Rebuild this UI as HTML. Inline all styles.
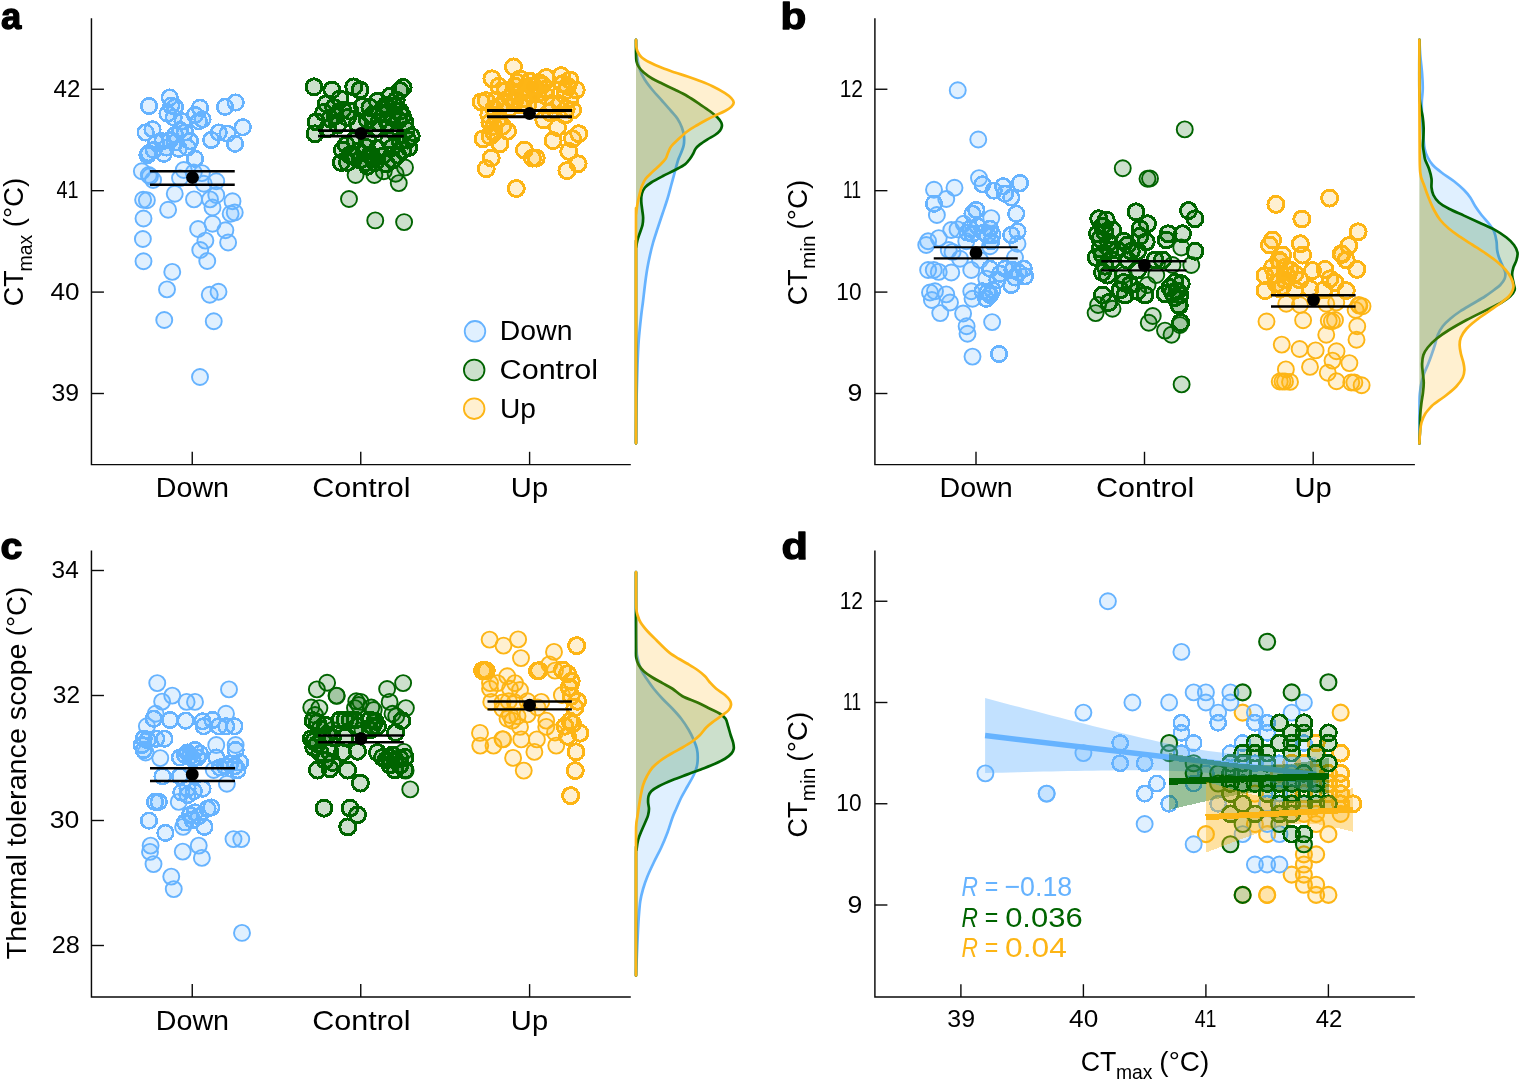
<!DOCTYPE html>
<html lang="en"><head><meta charset="utf-8"><title>Thermal tolerance figure</title>
<style>
html,body{margin:0;padding:0;background:#fff;}
body{width:1519px;height:1080px;overflow:hidden;}
svg{display:block;}
</style></head>
<body>
<svg width="1519" height="1080" viewBox="0 0 1519 1080" font-family="'Liberation Sans', sans-serif" fill="#000">
<rect width="1519" height="1080" fill="#fff"/>
<path d="M91.45,18.2 V464.6 H630.8" fill="none" stroke="#0a0a0a" stroke-width="1.45"/>
<line x1="91.45" y1="89.25" x2="103.95" y2="89.25" stroke="#0a0a0a" stroke-width="1.4"/>
<line x1="91.45" y1="190.67" x2="103.95" y2="190.67" stroke="#0a0a0a" stroke-width="1.4"/>
<line x1="91.45" y1="292.09" x2="103.95" y2="292.09" stroke="#0a0a0a" stroke-width="1.4"/>
<line x1="91.45" y1="393.51" x2="103.95" y2="393.51" stroke="#0a0a0a" stroke-width="1.4"/>
<line x1="192.25" y1="464.6" x2="192.25" y2="451.8" stroke="#0a0a0a" stroke-width="1.4"/>
<line x1="360.75" y1="464.6" x2="360.75" y2="451.8" stroke="#0a0a0a" stroke-width="1.4"/>
<line x1="529.6" y1="464.6" x2="529.6" y2="451.8" stroke="#0a0a0a" stroke-width="1.4"/>
<text transform="translate(53.51,96.95) scale(1.0082,1)" font-size="23.9">42</text>
<text transform="translate(56.45,198.37) scale(0.8288,1)" font-size="23.9">41</text>
<text transform="translate(50.61,299.79) scale(1.0919,1)" font-size="23.9">40</text>
<text transform="translate(51.57,401.21) scale(1.0384,1)" font-size="23.9">39</text>
<text transform="translate(155.68,497) scale(1.0146,1)" font-size="28.3">Down</text>
<text transform="translate(312.17,497) scale(1.0791,1)" font-size="28.3">Control</text>
<text transform="translate(510.84,497) scale(1.0296,1)" font-size="28.3">Up</text>
<g fill="#66b3ff" fill-opacity="0.2" stroke="#66b3ff" stroke-width="1.9">
<circle cx="149" cy="106" r="7.8" stroke-width="2.6" shape-rendering="crispEdges"/><circle cx="169.75" cy="97.5" r="7.8" stroke-width="2.6" shape-rendering="crispEdges"/><circle cx="171.25" cy="105.62" r="7.8" stroke-width="2.6" shape-rendering="crispEdges"/><circle cx="175" cy="106.88" r="7.8" stroke-width="2.6" shape-rendering="crispEdges"/><circle cx="167.5" cy="113.75" r="7.8" stroke-width="2.6" shape-rendering="crispEdges"/><circle cx="200" cy="107.75" r="7.8" stroke-width="2.6" shape-rendering="crispEdges"/><circle cx="202.5" cy="119.38" r="7.8" stroke-width="2.6" shape-rendering="crispEdges"/><circle cx="198.75" cy="121.25" r="7.8" stroke-width="2.6" shape-rendering="crispEdges"/><circle cx="225" cy="106.88" r="7.8" stroke-width="2.6" shape-rendering="crispEdges"/><circle cx="235.62" cy="102.5" r="7.8" stroke-width="2.6" shape-rendering="crispEdges"/><circle cx="182.5" cy="121.25" r="7.8" stroke-width="2.6" shape-rendering="crispEdges"/><circle cx="242.75" cy="127.25" r="7.8" stroke-width="2.6" shape-rendering="crispEdges"/><circle cx="145.62" cy="132.5" r="7.8" stroke-width="2.6" shape-rendering="crispEdges"/><circle cx="152.5" cy="129.38" r="7.8" stroke-width="2.6" shape-rendering="crispEdges"/><circle cx="180" cy="130" r="7.8" stroke-width="2.6" shape-rendering="crispEdges"/><circle cx="218.75" cy="132.5" r="7.8" stroke-width="2.6" shape-rendering="crispEdges"/><circle cx="227.5" cy="133.75" r="7.8" stroke-width="2.6" shape-rendering="crispEdges"/><circle cx="211.25" cy="140" r="7.8" stroke-width="2.6" shape-rendering="crispEdges"/><circle cx="235" cy="143.75" r="7.8" stroke-width="2.6" shape-rendering="crispEdges"/><circle cx="190" cy="141.25" r="7.8" stroke-width="2.6" shape-rendering="crispEdges"/><circle cx="170" cy="140" r="7.8" stroke-width="2.6" shape-rendering="crispEdges"/><circle cx="175" cy="142.5" r="7.8" stroke-width="2.6" shape-rendering="crispEdges"/><circle cx="162.5" cy="141.25" r="7.8" stroke-width="2.6" shape-rendering="crispEdges"/><circle cx="156.25" cy="142.5" r="7.8" stroke-width="2.6" shape-rendering="crispEdges"/><circle cx="148.75" cy="153.12" r="7.8" stroke-width="2.6" shape-rendering="crispEdges"/><circle cx="147.5" cy="155" r="7.8" stroke-width="2.6" shape-rendering="crispEdges"/><circle cx="163.75" cy="153.75" r="7.8" stroke-width="2.6" shape-rendering="crispEdges"/><circle cx="178.75" cy="148.75" r="7.8" stroke-width="2.6" shape-rendering="crispEdges"/><circle cx="195" cy="158.75" r="7.8" stroke-width="2.6" shape-rendering="crispEdges"/><circle cx="185" cy="132.5" r="7.8" stroke-width="2.6" shape-rendering="crispEdges"/><circle cx="175" cy="135" r="7.8" stroke-width="2.6" shape-rendering="crispEdges"/><circle cx="166.25" cy="147.5" r="7.8" stroke-width="2.6" shape-rendering="crispEdges"/><circle cx="153.75" cy="150" r="7.8" stroke-width="2.6" shape-rendering="crispEdges"/><circle cx="187.5" cy="147.5" r="7.8" stroke-width="2.6" shape-rendering="crispEdges"/><circle cx="173.75" cy="117.5" r="7.8" stroke-width="2.6" shape-rendering="crispEdges"/><circle cx="195" cy="115" r="7.8" stroke-width="2.6" shape-rendering="crispEdges"/><circle cx="141.88" cy="171.25" r="8"/><circle cx="150" cy="176.25" r="8"/><circle cx="153.12" cy="180" r="8"/><circle cx="148.75" cy="175" r="8"/><circle cx="183.75" cy="170" r="8"/><circle cx="180" cy="178.12" r="8"/><circle cx="193.75" cy="172.5" r="8"/><circle cx="201.88" cy="173.12" r="8"/><circle cx="216.25" cy="181.25" r="8"/><circle cx="203.75" cy="183.75" r="8"/><circle cx="143.12" cy="199.75" r="8"/><circle cx="146.88" cy="200.25" r="8"/><circle cx="174.75" cy="193.75" r="8"/><circle cx="168.12" cy="209.75" r="8"/><circle cx="194" cy="199.38" r="8"/><circle cx="210" cy="199.38" r="8"/><circle cx="216.25" cy="195" r="8"/><circle cx="212.5" cy="207.5" r="8"/><circle cx="232.5" cy="201.25" r="8"/><circle cx="230.62" cy="213.75" r="8"/><circle cx="234.75" cy="212.5" r="8"/><circle cx="143.5" cy="218.5" r="8"/><circle cx="212.5" cy="223.75" r="8"/><circle cx="198.12" cy="229" r="8"/><circle cx="225.38" cy="230.25" r="8"/><circle cx="142.88" cy="239" r="8"/><circle cx="205.38" cy="240.62" r="8"/><circle cx="228.12" cy="242.5" r="8"/><circle cx="200.25" cy="250" r="8"/><circle cx="143.5" cy="261.25" r="8"/><circle cx="207.25" cy="261" r="8"/><circle cx="172.25" cy="271.88" r="8"/><circle cx="167" cy="289.38" r="8"/><circle cx="209.75" cy="294.75" r="8"/><circle cx="218.5" cy="291.75" r="8"/><circle cx="164.25" cy="320" r="8"/><circle cx="213.75" cy="321.25" r="8"/><circle cx="200" cy="377" r="8"/>
</g>
<g fill="#006400" fill-opacity="0.2" stroke="#006400" stroke-width="1.9">
<circle cx="314" cy="86.88" r="8" stroke-width="3" shape-rendering="crispEdges"/><circle cx="331.88" cy="90" r="8" stroke-width="3" shape-rendering="crispEdges"/><circle cx="353.75" cy="86.88" r="8" stroke-width="3" shape-rendering="crispEdges"/><circle cx="360" cy="90" r="8" stroke-width="3" shape-rendering="crispEdges"/><circle cx="403.12" cy="87.5" r="8" stroke-width="3" shape-rendering="crispEdges"/><circle cx="400" cy="90.62" r="8" stroke-width="3" shape-rendering="crispEdges"/><circle cx="326.25" cy="103.75" r="8" stroke-width="3" shape-rendering="crispEdges"/><circle cx="340" cy="98.75" r="8" stroke-width="3" shape-rendering="crispEdges"/><circle cx="390" cy="96.25" r="8" stroke-width="3" shape-rendering="crispEdges"/><circle cx="377.5" cy="101.25" r="8" stroke-width="3" shape-rendering="crispEdges"/><circle cx="362.5" cy="106.25" r="8" stroke-width="3" shape-rendering="crispEdges"/><circle cx="395" cy="106.25" r="8" stroke-width="3" shape-rendering="crispEdges"/><circle cx="350" cy="111.25" r="8" stroke-width="3" shape-rendering="crispEdges"/><circle cx="380" cy="112.5" r="8" stroke-width="3" shape-rendering="crispEdges"/><circle cx="316.25" cy="121.88" r="8" stroke-width="3" shape-rendering="crispEdges"/><circle cx="330" cy="118.75" r="8" stroke-width="3" shape-rendering="crispEdges"/><circle cx="347.5" cy="117.5" r="8" stroke-width="3" shape-rendering="crispEdges"/><circle cx="315" cy="133.75" r="8" stroke-width="3" shape-rendering="crispEdges"/><circle cx="398.75" cy="120" r="8" stroke-width="3" shape-rendering="crispEdges"/><circle cx="405" cy="122.5" r="8" stroke-width="3" shape-rendering="crispEdges"/><circle cx="411.25" cy="136.25" r="8" stroke-width="3" shape-rendering="crispEdges"/><circle cx="388.75" cy="140" r="8" stroke-width="3" shape-rendering="crispEdges"/><circle cx="346.25" cy="145" r="8" stroke-width="3" shape-rendering="crispEdges"/><circle cx="342.5" cy="150" r="8" stroke-width="3" shape-rendering="crispEdges"/><circle cx="358.75" cy="151.25" r="8" stroke-width="3" shape-rendering="crispEdges"/><circle cx="377.5" cy="148.75" r="8" stroke-width="3" shape-rendering="crispEdges"/><circle cx="408.75" cy="147.5" r="8" stroke-width="3" shape-rendering="crispEdges"/><circle cx="397.5" cy="155" r="8" stroke-width="3" shape-rendering="crispEdges"/><circle cx="341.25" cy="162.5" r="8" stroke-width="3" shape-rendering="crispEdges"/><circle cx="347.5" cy="162.5" r="8" stroke-width="3" shape-rendering="crispEdges"/><circle cx="366.25" cy="162.5" r="8" stroke-width="3" shape-rendering="crispEdges"/><circle cx="386.25" cy="163.75" r="8" stroke-width="3" shape-rendering="crispEdges"/><circle cx="333.75" cy="107.5" r="8" stroke-width="3" shape-rendering="crispEdges"/><circle cx="370" cy="107.5" r="8" stroke-width="3" shape-rendering="crispEdges"/><circle cx="386.25" cy="105" r="8" stroke-width="3" shape-rendering="crispEdges"/><circle cx="400" cy="111.25" r="8" stroke-width="3" shape-rendering="crispEdges"/><circle cx="337.5" cy="125" r="8" stroke-width="3" shape-rendering="crispEdges"/><circle cx="357.5" cy="123.75" r="8" stroke-width="3" shape-rendering="crispEdges"/><circle cx="367.5" cy="120" r="8" stroke-width="3" shape-rendering="crispEdges"/><circle cx="387.5" cy="122.5" r="8" stroke-width="3" shape-rendering="crispEdges"/><circle cx="375" cy="128.75" r="8" stroke-width="3" shape-rendering="crispEdges"/><circle cx="392.5" cy="130" r="8" stroke-width="3" shape-rendering="crispEdges"/><circle cx="327.5" cy="128.75" r="8" stroke-width="3" shape-rendering="crispEdges"/><circle cx="406.25" cy="130" r="8" stroke-width="3" shape-rendering="crispEdges"/><circle cx="367.5" cy="140" r="8" stroke-width="3" shape-rendering="crispEdges"/><circle cx="355" cy="140" r="8" stroke-width="3" shape-rendering="crispEdges"/><circle cx="400" cy="141.25" r="8" stroke-width="3" shape-rendering="crispEdges"/><circle cx="370" cy="155" r="8" stroke-width="3" shape-rendering="crispEdges"/><circle cx="382.5" cy="156.25" r="8" stroke-width="3" shape-rendering="crispEdges"/><circle cx="360" cy="160" r="8" stroke-width="3" shape-rendering="crispEdges"/><circle cx="375" cy="162.5" r="8" stroke-width="3" shape-rendering="crispEdges"/><circle cx="392.5" cy="147.5" r="8" stroke-width="3" shape-rendering="crispEdges"/><circle cx="352.5" cy="156.25" r="8" stroke-width="3" shape-rendering="crispEdges"/><circle cx="383.75" cy="113.75" r="8" stroke-width="3" shape-rendering="crispEdges"/><circle cx="392.5" cy="117.5" r="8" stroke-width="3" shape-rendering="crispEdges"/><circle cx="396.25" cy="100" r="8" stroke-width="3" shape-rendering="crispEdges"/><circle cx="372.5" cy="115" r="8" stroke-width="3" shape-rendering="crispEdges"/><circle cx="378.75" cy="122.5" r="8" stroke-width="3" shape-rendering="crispEdges"/><circle cx="387.5" cy="107.5" r="8" stroke-width="3" shape-rendering="crispEdges"/><circle cx="402.5" cy="116.25" r="8" stroke-width="3" shape-rendering="crispEdges"/><circle cx="366.25" cy="147.5" r="8" stroke-width="3" shape-rendering="crispEdges"/><circle cx="372.5" cy="157.5" r="8" stroke-width="3" shape-rendering="crispEdges"/><circle cx="323.75" cy="112.5" r="8" stroke-width="3" shape-rendering="crispEdges"/><circle cx="342.5" cy="110" r="8" stroke-width="3" shape-rendering="crispEdges"/><circle cx="335" cy="116.25" r="8" stroke-width="3" shape-rendering="crispEdges"/><circle cx="407.5" cy="140" r="8" stroke-width="3" shape-rendering="crispEdges"/><circle cx="402.5" cy="150" r="8" stroke-width="3" shape-rendering="crispEdges"/><circle cx="392.5" cy="160" r="8" stroke-width="3" shape-rendering="crispEdges"/><circle cx="367.5" cy="166.25" r="8" stroke-width="3" shape-rendering="crispEdges"/><circle cx="350" cy="155" r="8" stroke-width="3" shape-rendering="crispEdges"/><circle cx="355.62" cy="175" r="8"/><circle cx="374.38" cy="175" r="8"/><circle cx="383.75" cy="171.25" r="8"/><circle cx="405" cy="167.5" r="8"/><circle cx="395.62" cy="173.75" r="8"/><circle cx="398.75" cy="183.12" r="8"/><circle cx="349" cy="199" r="8"/><circle cx="375.25" cy="220.4" r="8"/><circle cx="404.1" cy="222.1" r="8"/>
</g>
<g fill="#fdb515" fill-opacity="0.2" stroke="#fdb515" stroke-width="1.9">
<circle cx="513.5" cy="66.88" r="8" stroke-width="3" shape-rendering="crispEdges"/><circle cx="491.88" cy="78.75" r="8" stroke-width="3" shape-rendering="crispEdges"/><circle cx="498.75" cy="86.25" r="8" stroke-width="3" shape-rendering="crispEdges"/><circle cx="520" cy="78.75" r="8" stroke-width="3" shape-rendering="crispEdges"/><circle cx="530" cy="81.25" r="8" stroke-width="3" shape-rendering="crispEdges"/><circle cx="538.75" cy="82.5" r="8" stroke-width="3" shape-rendering="crispEdges"/><circle cx="546.25" cy="77.5" r="8" stroke-width="3" shape-rendering="crispEdges"/><circle cx="561.25" cy="75.62" r="8" stroke-width="3" shape-rendering="crispEdges"/><circle cx="570" cy="80" r="8" stroke-width="3" shape-rendering="crispEdges"/><circle cx="576.25" cy="90" r="8" stroke-width="3" shape-rendering="crispEdges"/><circle cx="565" cy="91.25" r="8" stroke-width="3" shape-rendering="crispEdges"/><circle cx="546.25" cy="88.75" r="8" stroke-width="3" shape-rendering="crispEdges"/><circle cx="521.25" cy="91.25" r="8" stroke-width="3" shape-rendering="crispEdges"/><circle cx="510" cy="97.5" r="8" stroke-width="3" shape-rendering="crispEdges"/><circle cx="481.25" cy="101.88" r="8" stroke-width="3" shape-rendering="crispEdges"/><circle cx="486.25" cy="100.62" r="8" stroke-width="3" shape-rendering="crispEdges"/><circle cx="496.25" cy="100" r="8" stroke-width="3" shape-rendering="crispEdges"/><circle cx="505" cy="102.5" r="8" stroke-width="3" shape-rendering="crispEdges"/><circle cx="537.5" cy="102.5" r="8" stroke-width="3" shape-rendering="crispEdges"/><circle cx="560" cy="103.75" r="8" stroke-width="3" shape-rendering="crispEdges"/><circle cx="572.5" cy="110" r="8" stroke-width="3" shape-rendering="crispEdges"/><circle cx="566.25" cy="108.75" r="8" stroke-width="3" shape-rendering="crispEdges"/><circle cx="488.75" cy="115" r="8" stroke-width="3" shape-rendering="crispEdges"/><circle cx="490" cy="122.5" r="8" stroke-width="3" shape-rendering="crispEdges"/><circle cx="543.75" cy="120" r="8" stroke-width="3" shape-rendering="crispEdges"/><circle cx="557.5" cy="127.5" r="8" stroke-width="3" shape-rendering="crispEdges"/><circle cx="507.5" cy="131.25" r="8" stroke-width="3" shape-rendering="crispEdges"/><circle cx="493.75" cy="132.5" r="8" stroke-width="3" shape-rendering="crispEdges"/><circle cx="483.12" cy="138.75" r="8" stroke-width="3" shape-rendering="crispEdges"/><circle cx="490" cy="136.25" r="8" stroke-width="3" shape-rendering="crispEdges"/><circle cx="500" cy="143.75" r="8" stroke-width="3" shape-rendering="crispEdges"/><circle cx="553.12" cy="140.62" r="8" stroke-width="3" shape-rendering="crispEdges"/><circle cx="578.75" cy="133.75" r="8" stroke-width="3" shape-rendering="crispEdges"/><circle cx="572.5" cy="138.75" r="8" stroke-width="3" shape-rendering="crispEdges"/><circle cx="568.75" cy="151.25" r="8" stroke-width="3" shape-rendering="crispEdges"/><circle cx="524.38" cy="150" r="8" stroke-width="3" shape-rendering="crispEdges"/><circle cx="532.5" cy="158.12" r="8" stroke-width="3" shape-rendering="crispEdges"/><circle cx="536.25" cy="158.12" r="8" stroke-width="3" shape-rendering="crispEdges"/><circle cx="491.25" cy="158.12" r="8" stroke-width="3" shape-rendering="crispEdges"/><circle cx="486.25" cy="168.75" r="8" stroke-width="3" shape-rendering="crispEdges"/><circle cx="578.12" cy="163.75" r="8" stroke-width="3" shape-rendering="crispEdges"/><circle cx="566.88" cy="170.62" r="8" stroke-width="3" shape-rendering="crispEdges"/><circle cx="515" cy="86.25" r="8" stroke-width="3" shape-rendering="crispEdges"/><circle cx="526.25" cy="87.5" r="8" stroke-width="3" shape-rendering="crispEdges"/><circle cx="535" cy="90" r="8" stroke-width="3" shape-rendering="crispEdges"/><circle cx="542.5" cy="85" r="8" stroke-width="3" shape-rendering="crispEdges"/><circle cx="515" cy="100" r="8" stroke-width="3" shape-rendering="crispEdges"/><circle cx="525" cy="98.75" r="8" stroke-width="3" shape-rendering="crispEdges"/><circle cx="530" cy="93.75" r="8" stroke-width="3" shape-rendering="crispEdges"/><circle cx="520" cy="105" r="8" stroke-width="3" shape-rendering="crispEdges"/><circle cx="500" cy="106.25" r="8" stroke-width="3" shape-rendering="crispEdges"/><circle cx="510" cy="107.5" r="8" stroke-width="3" shape-rendering="crispEdges"/><circle cx="493.75" cy="108.75" r="8" stroke-width="3" shape-rendering="crispEdges"/><circle cx="527.5" cy="105" r="8" stroke-width="3" shape-rendering="crispEdges"/><circle cx="513.75" cy="92.5" r="8" stroke-width="3" shape-rendering="crispEdges"/><circle cx="567.5" cy="86.25" r="8" stroke-width="3" shape-rendering="crispEdges"/><circle cx="562.5" cy="83.75" r="8" stroke-width="3" shape-rendering="crispEdges"/><circle cx="570" cy="98.75" r="8" stroke-width="3" shape-rendering="crispEdges"/><circle cx="552.5" cy="105" r="8" stroke-width="3" shape-rendering="crispEdges"/><circle cx="497.5" cy="120" r="8" stroke-width="3" shape-rendering="crispEdges"/><circle cx="502.5" cy="126.25" r="8" stroke-width="3" shape-rendering="crispEdges"/><circle cx="493.75" cy="126.25" r="8" stroke-width="3" shape-rendering="crispEdges"/><circle cx="565" cy="115" r="8" stroke-width="3" shape-rendering="crispEdges"/><circle cx="550" cy="112.5" r="8" stroke-width="3" shape-rendering="crispEdges"/><circle cx="505" cy="91.25" r="8" stroke-width="3" shape-rendering="crispEdges"/><circle cx="537.5" cy="93.75" r="8" stroke-width="3" shape-rendering="crispEdges"/><circle cx="546.25" cy="96.25" r="8" stroke-width="3" shape-rendering="crispEdges"/><circle cx="517.5" cy="82.5" r="8" stroke-width="3" shape-rendering="crispEdges"/><circle cx="532.5" cy="86.25" r="8" stroke-width="3" shape-rendering="crispEdges"/><circle cx="516.25" cy="188.5" r="8" stroke-width="3" shape-rendering="crispEdges"/>
</g>
<circle cx="192.5" cy="177.5" r="6.4" fill="#000"/>
<path d="M150,171.25 H234.75 M150,184.75 H234.75" stroke="#000" stroke-width="2.3" fill="none"/>
<circle cx="361" cy="133.5" r="6.4" fill="#000"/>
<path d="M318,130.6 H403.75 M318,136.1 H403.75" stroke="#000" stroke-width="2.8" fill="none"/>
<circle cx="529.5" cy="113.5" r="6.4" fill="#000"/>
<path d="M487,110.5 H572 M487,116.7 H572" stroke="#000" stroke-width="3.0" fill="none"/>
<path d="M636,39.9 C636.15,42.42 636.21,49.98 636.88,55 C637.54,60.02 638.65,65.83 640,70 C641.35,74.17 642.92,76.67 645,80 C647.08,83.33 649.58,86.46 652.5,90 C655.42,93.54 659.38,97.71 662.5,101.25 C665.62,104.79 668.75,108.33 671.25,111.25 C673.75,114.17 675.73,116.04 677.5,118.75 C679.27,121.46 680.79,124.58 681.88,127.5 C682.96,130.42 683.69,133.33 684,136.25 C684.31,139.17 684.21,142.29 683.75,145 C683.29,147.71 682.19,150 681.25,152.5 C680.31,155 679.17,156.88 678.12,160 C677.08,163.12 676.15,167.08 675,171.25 C673.85,175.42 672.5,180.42 671.25,185 C670,189.58 668.96,193.96 667.5,198.75 C666.04,203.54 664.17,208.75 662.5,213.75 C660.83,218.75 659.06,223.96 657.5,228.75 C655.94,233.54 654.38,238.12 653.12,242.5 C651.88,246.88 650.98,250.62 650,255 C649.02,259.38 648.04,264.17 647.25,268.75 C646.46,273.33 645.98,276.88 645.25,282.5 C644.52,288.12 643.54,297.08 642.88,302.5 C642.21,307.92 641.94,308.75 641.25,315 C640.56,321.25 639.38,331.67 638.75,340 C638.12,348.33 637.88,354.58 637.5,365 C637.12,375.42 636.75,389.45 636.5,402.5 C636.25,415.55 636.08,436.5 636,443.3 L636,39.9 Z" fill="#66b3ff" fill-opacity="0.2" stroke="none"/>
<path d="M636,39.9 C636.15,42.42 636.21,49.98 636.88,55 C637.54,60.02 638.65,65.83 640,70 C641.35,74.17 642.92,76.67 645,80 C647.08,83.33 649.58,86.46 652.5,90 C655.42,93.54 659.38,97.71 662.5,101.25 C665.62,104.79 668.75,108.33 671.25,111.25 C673.75,114.17 675.73,116.04 677.5,118.75 C679.27,121.46 680.79,124.58 681.88,127.5 C682.96,130.42 683.69,133.33 684,136.25 C684.31,139.17 684.21,142.29 683.75,145 C683.29,147.71 682.19,150 681.25,152.5 C680.31,155 679.17,156.88 678.12,160 C677.08,163.12 676.15,167.08 675,171.25 C673.85,175.42 672.5,180.42 671.25,185 C670,189.58 668.96,193.96 667.5,198.75 C666.04,203.54 664.17,208.75 662.5,213.75 C660.83,218.75 659.06,223.96 657.5,228.75 C655.94,233.54 654.38,238.12 653.12,242.5 C651.88,246.88 650.98,250.62 650,255 C649.02,259.38 648.04,264.17 647.25,268.75 C646.46,273.33 645.98,276.88 645.25,282.5 C644.52,288.12 643.54,297.08 642.88,302.5 C642.21,307.92 641.94,308.75 641.25,315 C640.56,321.25 639.38,331.67 638.75,340 C638.12,348.33 637.88,354.58 637.5,365 C637.12,375.42 636.75,389.45 636.5,402.5 C636.25,415.55 636.08,436.5 636,443.3" fill="none" stroke="#66b3ff" stroke-width="2.7" stroke-linejoin="round" stroke-linecap="round"/>
<path d="M636,39.9 C636,42 635.92,48.94 636,52.5 C636.08,56.06 636.04,58.85 636.5,61.25 C636.96,63.65 637.54,65 638.75,66.88 C639.96,68.75 641.46,70.52 643.75,72.5 C646.04,74.48 649.38,76.88 652.5,78.75 C655.62,80.62 658.75,81.92 662.5,83.75 C666.25,85.58 670.83,87.67 675,89.75 C679.17,91.83 683.33,93.81 687.5,96.25 C691.67,98.69 696.25,101.88 700,104.38 C703.75,106.88 707.08,109.06 710,111.25 C712.92,113.44 715.62,115.62 717.5,117.5 C719.38,119.38 720.52,121.04 721.25,122.5 C721.98,123.96 722.08,124.9 721.88,126.25 C721.67,127.6 721.15,129.17 720,130.62 C718.85,132.08 717.08,133.54 715,135 C712.92,136.46 710,137.81 707.5,139.38 C705,140.94 701.98,142.81 700,144.38 C698.02,145.94 696.77,147.19 695.62,148.75 C694.48,150.31 694.06,152.08 693.12,153.75 C692.19,155.42 691.35,156.98 690,158.75 C688.65,160.52 687.5,162.5 685,164.38 C682.5,166.25 678.75,168.02 675,170 C671.25,171.98 666.46,174.17 662.5,176.25 C658.54,178.33 654.17,180.62 651.25,182.5 C648.33,184.38 646.56,185.62 645,187.5 C643.44,189.38 642.5,191.46 641.88,193.75 C641.25,196.04 641.19,198.54 641.25,201.25 C641.31,203.96 641.94,207.29 642.25,210 C642.56,212.71 643.08,215 643.12,217.5 C643.17,220 643.02,222.5 642.5,225 C641.98,227.5 640.83,230 640,232.5 C639.17,235 638.12,237.5 637.5,240 C636.88,242.5 636.5,244.58 636.25,247.5 C636,250.42 636.04,224.87 636,257.5 C635.96,290.13 636,412.33 636,443.3 L636,39.9 Z" fill="#006400" fill-opacity="0.2" stroke="none"/>
<path d="M636,39.9 C636,42 635.92,48.94 636,52.5 C636.08,56.06 636.04,58.85 636.5,61.25 C636.96,63.65 637.54,65 638.75,66.88 C639.96,68.75 641.46,70.52 643.75,72.5 C646.04,74.48 649.38,76.88 652.5,78.75 C655.62,80.62 658.75,81.92 662.5,83.75 C666.25,85.58 670.83,87.67 675,89.75 C679.17,91.83 683.33,93.81 687.5,96.25 C691.67,98.69 696.25,101.88 700,104.38 C703.75,106.88 707.08,109.06 710,111.25 C712.92,113.44 715.62,115.62 717.5,117.5 C719.38,119.38 720.52,121.04 721.25,122.5 C721.98,123.96 722.08,124.9 721.88,126.25 C721.67,127.6 721.15,129.17 720,130.62 C718.85,132.08 717.08,133.54 715,135 C712.92,136.46 710,137.81 707.5,139.38 C705,140.94 701.98,142.81 700,144.38 C698.02,145.94 696.77,147.19 695.62,148.75 C694.48,150.31 694.06,152.08 693.12,153.75 C692.19,155.42 691.35,156.98 690,158.75 C688.65,160.52 687.5,162.5 685,164.38 C682.5,166.25 678.75,168.02 675,170 C671.25,171.98 666.46,174.17 662.5,176.25 C658.54,178.33 654.17,180.62 651.25,182.5 C648.33,184.38 646.56,185.62 645,187.5 C643.44,189.38 642.5,191.46 641.88,193.75 C641.25,196.04 641.19,198.54 641.25,201.25 C641.31,203.96 641.94,207.29 642.25,210 C642.56,212.71 643.08,215 643.12,217.5 C643.17,220 643.02,222.5 642.5,225 C641.98,227.5 640.83,230 640,232.5 C639.17,235 638.12,237.5 637.5,240 C636.88,242.5 636.5,244.58 636.25,247.5 C636,250.42 636.04,224.87 636,257.5 C635.96,290.13 636,412.33 636,443.3" fill="none" stroke="#006400" stroke-width="2.7" stroke-linejoin="round" stroke-linecap="round"/>
<path d="M636,39.9 C636.04,40.96 636,44.36 636.25,46.25 C636.5,48.14 636.67,49.48 637.5,51.25 C638.33,53.02 639.17,55 641.25,56.88 C643.33,58.75 646.46,60.62 650,62.5 C653.54,64.38 658.33,66.46 662.5,68.12 C666.67,69.79 670.83,71.1 675,72.5 C679.17,73.9 683.33,75.08 687.5,76.5 C691.67,77.92 695.83,79.38 700,81 C704.17,82.62 708.33,84.23 712.5,86.25 C716.67,88.27 721.88,91.15 725,93.12 C728.12,95.1 729.79,96.56 731.25,98.12 C732.71,99.69 733.75,101.04 733.75,102.5 C733.75,103.96 732.71,105.46 731.25,106.88 C729.79,108.29 727.71,109.54 725,111 C722.29,112.46 718.12,114.12 715,115.62 C711.88,117.12 709.17,118.44 706.25,120 C703.33,121.56 700.62,123.12 697.5,125 C694.38,126.88 690.83,128.75 687.5,131.25 C684.17,133.75 680.21,137.5 677.5,140 C674.79,142.5 672.81,144.17 671.25,146.25 C669.69,148.33 669.06,150.42 668.12,152.5 C667.19,154.58 666.98,156.67 665.62,158.75 C664.27,160.83 662.19,162.81 660,165 C657.81,167.19 654.9,169.58 652.5,171.88 C650.1,174.17 647.4,176.35 645.62,178.75 C643.85,181.15 642.92,183.54 641.88,186.25 C640.83,188.96 640.1,192.08 639.38,195 C638.65,197.92 638.02,200.62 637.5,203.75 C636.98,206.88 636.5,209.58 636.25,213.75 C636,217.92 636.04,190.49 636,228.75 C635.96,267.01 636,407.54 636,443.3 L636,39.9 Z" fill="#fdb515" fill-opacity="0.2" stroke="none"/>
<path d="M636,39.9 C636.04,40.96 636,44.36 636.25,46.25 C636.5,48.14 636.67,49.48 637.5,51.25 C638.33,53.02 639.17,55 641.25,56.88 C643.33,58.75 646.46,60.62 650,62.5 C653.54,64.38 658.33,66.46 662.5,68.12 C666.67,69.79 670.83,71.1 675,72.5 C679.17,73.9 683.33,75.08 687.5,76.5 C691.67,77.92 695.83,79.38 700,81 C704.17,82.62 708.33,84.23 712.5,86.25 C716.67,88.27 721.88,91.15 725,93.12 C728.12,95.1 729.79,96.56 731.25,98.12 C732.71,99.69 733.75,101.04 733.75,102.5 C733.75,103.96 732.71,105.46 731.25,106.88 C729.79,108.29 727.71,109.54 725,111 C722.29,112.46 718.12,114.12 715,115.62 C711.88,117.12 709.17,118.44 706.25,120 C703.33,121.56 700.62,123.12 697.5,125 C694.38,126.88 690.83,128.75 687.5,131.25 C684.17,133.75 680.21,137.5 677.5,140 C674.79,142.5 672.81,144.17 671.25,146.25 C669.69,148.33 669.06,150.42 668.12,152.5 C667.19,154.58 666.98,156.67 665.62,158.75 C664.27,160.83 662.19,162.81 660,165 C657.81,167.19 654.9,169.58 652.5,171.88 C650.1,174.17 647.4,176.35 645.62,178.75 C643.85,181.15 642.92,183.54 641.88,186.25 C640.83,188.96 640.1,192.08 639.38,195 C638.65,197.92 638.02,200.62 637.5,203.75 C636.98,206.88 636.5,209.58 636.25,213.75 C636,217.92 636.04,190.49 636,228.75 C635.96,267.01 636,407.54 636,443.3" fill="none" stroke="#fdb515" stroke-width="2.7" stroke-linejoin="round" stroke-linecap="round"/>
<circle cx="475" cy="331.3" r="10.3" fill="#66b3ff" fill-opacity="0.2" stroke="#66b3ff" stroke-width="1.8"/>
<text transform="translate(499.86,340.1) scale(1.0136,1)" font-size="28">Down</text>
<circle cx="474.2" cy="370" r="10.3" fill="#006400" fill-opacity="0.2" stroke="#006400" stroke-width="1.8"/>
<text transform="translate(499.57,378.8) scale(1.0918,1)" font-size="28">Control</text>
<circle cx="474.2" cy="408.7" r="10.3" fill="#fdb515" fill-opacity="0.2" stroke="#fdb515" stroke-width="1.8"/>
<text transform="translate(500.02,417.8) scale(1.0037,1)" font-size="28">Up</text>
<path d="M874.9,18.2 V464.6 H1414.9" fill="none" stroke="#0a0a0a" stroke-width="1.45"/>
<line x1="874.9" y1="89.25" x2="887.4" y2="89.25" stroke="#0a0a0a" stroke-width="1.4"/>
<line x1="874.9" y1="190.67" x2="887.4" y2="190.67" stroke="#0a0a0a" stroke-width="1.4"/>
<line x1="874.9" y1="292.09" x2="887.4" y2="292.09" stroke="#0a0a0a" stroke-width="1.4"/>
<line x1="874.9" y1="393.51" x2="887.4" y2="393.51" stroke="#0a0a0a" stroke-width="1.4"/>
<line x1="976" y1="464.6" x2="976" y2="451.8" stroke="#0a0a0a" stroke-width="1.4"/>
<line x1="1144.5" y1="464.6" x2="1144.5" y2="451.8" stroke="#0a0a0a" stroke-width="1.4"/>
<line x1="1313.2" y1="464.6" x2="1313.2" y2="451.8" stroke="#0a0a0a" stroke-width="1.4"/>
<text transform="translate(839.68,96.95) scale(0.8772,1)" font-size="23.9">12</text>
<text transform="translate(843.11,198.37) scale(0.7179,1)" font-size="23.9">11</text>
<text transform="translate(836.3,299.79) scale(0.9480,1)" font-size="23.9">10</text>
<text transform="translate(847.54,401.21) scale(1.1127,1)" font-size="23.9">9</text>
<text transform="translate(939.43,497) scale(1.0146,1)" font-size="28.3">Down</text>
<text transform="translate(1095.92,497) scale(1.0791,1)" font-size="28.3">Control</text>
<text transform="translate(1294.44,497) scale(1.0296,1)" font-size="28.3">Up</text>
<g fill="#66b3ff" fill-opacity="0.2" stroke="#66b3ff" stroke-width="1.9">
<circle cx="957.75" cy="90.25" r="8"/><circle cx="978.25" cy="139.5" r="8"/><circle cx="979" cy="178.12" r="8"/><circle cx="982.5" cy="184.38" r="7.8" stroke-width="2.6" shape-rendering="crispEdges"/><circle cx="934" cy="189.75" r="8"/><circle cx="954.5" cy="187.75" r="8"/><circle cx="946.25" cy="199" r="8"/><circle cx="934" cy="203.75" r="7.8" stroke-width="2.6" shape-rendering="crispEdges"/><circle cx="936.88" cy="215" r="8"/><circle cx="993.75" cy="190.62" r="7.8" stroke-width="2.6" shape-rendering="crispEdges"/><circle cx="1003.12" cy="186.25" r="7.8" stroke-width="2.6" shape-rendering="crispEdges"/><circle cx="1005" cy="193.75" r="7.8" stroke-width="2.6" shape-rendering="crispEdges"/><circle cx="1020" cy="183.12" r="7.8" stroke-width="2.6" shape-rendering="crispEdges"/><circle cx="1011.25" cy="197.5" r="7.8" stroke-width="2.6" shape-rendering="crispEdges"/><circle cx="1016.25" cy="213.75" r="7.8" stroke-width="2.6" shape-rendering="crispEdges"/><circle cx="976.25" cy="210" r="7.8" stroke-width="2.6" shape-rendering="crispEdges"/><circle cx="972.5" cy="213.75" r="7.8" stroke-width="2.6" shape-rendering="crispEdges"/><circle cx="991.25" cy="218.12" r="8"/><circle cx="963.75" cy="223.75" r="8"/><circle cx="970" cy="228.75" r="7.8" stroke-width="2.6" shape-rendering="crispEdges"/><circle cx="951.25" cy="230" r="8"/><circle cx="957.5" cy="229.38" r="8"/><circle cx="972.5" cy="233.75" r="7.8" stroke-width="2.6" shape-rendering="crispEdges"/><circle cx="990" cy="228.75" r="7.8" stroke-width="2.6" shape-rendering="crispEdges"/><circle cx="987.5" cy="235" r="7.8" stroke-width="2.6" shape-rendering="crispEdges"/><circle cx="1017.5" cy="231.25" r="7.8" stroke-width="2.6" shape-rendering="crispEdges"/><circle cx="1011.25" cy="235" r="7.8" stroke-width="2.6" shape-rendering="crispEdges"/><circle cx="938.75" cy="238.12" r="8"/><circle cx="928.12" cy="241.25" r="8"/><circle cx="926.25" cy="245" r="8"/><circle cx="966.25" cy="241.25" r="8"/><circle cx="991.25" cy="241.25" r="7.8" stroke-width="2.6" shape-rendering="crispEdges"/><circle cx="1017.5" cy="243.75" r="8"/><circle cx="948.75" cy="250" r="8"/><circle cx="952.5" cy="251.88" r="8"/><circle cx="990" cy="246.25" r="8"/><circle cx="960" cy="258.75" r="8"/><circle cx="980" cy="260" r="8"/><circle cx="1015" cy="257.5" r="8"/><circle cx="977.5" cy="226.25" r="7.8" stroke-width="2.6" shape-rendering="crispEdges"/><circle cx="983.75" cy="232.5" r="7.8" stroke-width="2.6" shape-rendering="crispEdges"/><circle cx="967.5" cy="232.5" r="7.8" stroke-width="2.6" shape-rendering="crispEdges"/><circle cx="992.5" cy="235" r="7.8" stroke-width="2.6" shape-rendering="crispEdges"/><circle cx="928.12" cy="270" r="8"/><circle cx="933.75" cy="270" r="8"/><circle cx="938.75" cy="271.88" r="8"/><circle cx="951.25" cy="272.5" r="8"/><circle cx="971.25" cy="270" r="8"/><circle cx="990" cy="268.75" r="7.8" stroke-width="2.6" shape-rendering="crispEdges"/><circle cx="1005" cy="268.75" r="7.8" stroke-width="2.6" shape-rendering="crispEdges"/><circle cx="1012.5" cy="270" r="7.8" stroke-width="2.6" shape-rendering="crispEdges"/><circle cx="1023.75" cy="268.75" r="7.8" stroke-width="2.6" shape-rendering="crispEdges"/><circle cx="1025" cy="276.25" r="7.8" stroke-width="2.6" shape-rendering="crispEdges"/><circle cx="1015" cy="277.5" r="7.8" stroke-width="2.6" shape-rendering="crispEdges"/><circle cx="986.25" cy="278.75" r="8"/><circle cx="1011.25" cy="285" r="7.8" stroke-width="2.6" shape-rendering="crispEdges"/><circle cx="997.5" cy="280" r="7.8" stroke-width="2.6" shape-rendering="crispEdges"/><circle cx="1018.75" cy="272.5" r="7.8" stroke-width="2.6" shape-rendering="crispEdges"/><circle cx="1000" cy="273.75" r="7.8" stroke-width="2.6" shape-rendering="crispEdges"/><circle cx="930" cy="292.5" r="8"/><circle cx="935" cy="291.25" r="8"/><circle cx="931.88" cy="300" r="8"/><circle cx="946.25" cy="294.38" r="8"/><circle cx="950" cy="302.5" r="8"/><circle cx="971.25" cy="291.25" r="8"/><circle cx="972.5" cy="298.75" r="8"/><circle cx="987.5" cy="292.5" r="7.8" stroke-width="2.6" shape-rendering="crispEdges"/><circle cx="992.5" cy="290" r="7.8" stroke-width="2.6" shape-rendering="crispEdges"/><circle cx="986.25" cy="298.75" r="7.8" stroke-width="2.6" shape-rendering="crispEdges"/><circle cx="990" cy="295" r="7.8" stroke-width="2.6" shape-rendering="crispEdges"/><circle cx="982.5" cy="291.25" r="7.8" stroke-width="2.6" shape-rendering="crispEdges"/><circle cx="940.25" cy="313.12" r="8"/><circle cx="963.12" cy="313.5" r="8"/><circle cx="966.62" cy="326.25" r="8"/><circle cx="967.5" cy="333.75" r="8"/><circle cx="992.12" cy="322.12" r="8"/><circle cx="972.5" cy="356.62" r="8"/><circle cx="999" cy="354" r="7.8" stroke-width="2.6" shape-rendering="crispEdges"/>
</g>
<g fill="#006400" fill-opacity="0.2" stroke="#006400" stroke-width="1.9">
<circle cx="1184.75" cy="129.38" r="8"/><circle cx="1122.75" cy="168.25" r="8"/><circle cx="1147.5" cy="178.75" r="8"/><circle cx="1150" cy="178.5" r="8"/><circle cx="1136" cy="211.88" r="8" stroke-width="3" shape-rendering="crispEdges"/><circle cx="1188.5" cy="210.62" r="8" stroke-width="3" shape-rendering="crispEdges"/><circle cx="1195" cy="218.75" r="8" stroke-width="3" shape-rendering="crispEdges"/><circle cx="1098.75" cy="218.75" r="8" stroke-width="3" shape-rendering="crispEdges"/><circle cx="1106.25" cy="220" r="8" stroke-width="3" shape-rendering="crispEdges"/><circle cx="1102.5" cy="226.25" r="8" stroke-width="3" shape-rendering="crispEdges"/><circle cx="1147.5" cy="223.75" r="8" stroke-width="3" shape-rendering="crispEdges"/><circle cx="1140" cy="228.75" r="8" stroke-width="3" shape-rendering="crispEdges"/><circle cx="1168.12" cy="233.75" r="8" stroke-width="3" shape-rendering="crispEdges"/><circle cx="1182.5" cy="233.75" r="8" stroke-width="3" shape-rendering="crispEdges"/><circle cx="1112.5" cy="230" r="8" stroke-width="3" shape-rendering="crispEdges"/><circle cx="1097.5" cy="233.75" r="8" stroke-width="3" shape-rendering="crispEdges"/><circle cx="1100" cy="238.75" r="8" stroke-width="3" shape-rendering="crispEdges"/><circle cx="1123.75" cy="241.25" r="8" stroke-width="3" shape-rendering="crispEdges"/><circle cx="1146.25" cy="241.88" r="8" stroke-width="3" shape-rendering="crispEdges"/><circle cx="1166.25" cy="240" r="8" stroke-width="3" shape-rendering="crispEdges"/><circle cx="1181.25" cy="247.5" r="8"/><circle cx="1195" cy="251.25" r="8" stroke-width="3" shape-rendering="crispEdges"/><circle cx="1100" cy="248.75" r="8" stroke-width="3" shape-rendering="crispEdges"/><circle cx="1110" cy="250" r="8" stroke-width="3" shape-rendering="crispEdges"/><circle cx="1131.25" cy="251.25" r="8" stroke-width="3" shape-rendering="crispEdges"/><circle cx="1096.25" cy="257.5" r="8" stroke-width="3" shape-rendering="crispEdges"/><circle cx="1155" cy="260" r="8" stroke-width="3" shape-rendering="crispEdges"/><circle cx="1191.25" cy="265" r="8"/><circle cx="1172.5" cy="265" r="8"/><circle cx="1102.5" cy="272.5" r="8" stroke-width="3" shape-rendering="crispEdges"/><circle cx="1107.5" cy="275" r="8" stroke-width="3" shape-rendering="crispEdges"/><circle cx="1123.75" cy="275" r="8"/><circle cx="1156.25" cy="275" r="8"/><circle cx="1123.75" cy="282.5" r="8" stroke-width="3" shape-rendering="crispEdges"/><circle cx="1120" cy="290" r="8" stroke-width="3" shape-rendering="crispEdges"/><circle cx="1137.5" cy="291.25" r="8" stroke-width="3" shape-rendering="crispEdges"/><circle cx="1147.5" cy="285" r="8"/><circle cx="1175" cy="282.5" r="8" stroke-width="3" shape-rendering="crispEdges"/><circle cx="1181.25" cy="283.75" r="8" stroke-width="3" shape-rendering="crispEdges"/><circle cx="1177.5" cy="291.25" r="8" stroke-width="3" shape-rendering="crispEdges"/><circle cx="1165" cy="293.75" r="8" stroke-width="3" shape-rendering="crispEdges"/><circle cx="1175" cy="297.5" r="8" stroke-width="3" shape-rendering="crispEdges"/><circle cx="1102.5" cy="295" r="8" stroke-width="3" shape-rendering="crispEdges"/><circle cx="1108.75" cy="302.5" r="8" stroke-width="3" shape-rendering="crispEdges"/><circle cx="1105" cy="232.5" r="8" stroke-width="3" shape-rendering="crispEdges"/><circle cx="1108.75" cy="242.5" r="8" stroke-width="3" shape-rendering="crispEdges"/><circle cx="1117.5" cy="250" r="8" stroke-width="3" shape-rendering="crispEdges"/><circle cx="1127.5" cy="245" r="8" stroke-width="3" shape-rendering="crispEdges"/><circle cx="1137.5" cy="251.25" r="8" stroke-width="3" shape-rendering="crispEdges"/><circle cx="1102.5" cy="255" r="8" stroke-width="3" shape-rendering="crispEdges"/><circle cx="1112.5" cy="260" r="8" stroke-width="3" shape-rendering="crispEdges"/><circle cx="1127.5" cy="260" r="8" stroke-width="3" shape-rendering="crispEdges"/><circle cx="1130" cy="285" r="8" stroke-width="3" shape-rendering="crispEdges"/><circle cx="1125" cy="295" r="8" stroke-width="3" shape-rendering="crispEdges"/><circle cx="1170" cy="287.5" r="8" stroke-width="3" shape-rendering="crispEdges"/><circle cx="1180" cy="295" r="8" stroke-width="3" shape-rendering="crispEdges"/><circle cx="1172.5" cy="292.5" r="8" stroke-width="3" shape-rendering="crispEdges"/><circle cx="1145" cy="295" r="8" stroke-width="3" shape-rendering="crispEdges"/><circle cx="1105" cy="266.25" r="8" stroke-width="3" shape-rendering="crispEdges"/><circle cx="1140" cy="236.25" r="8" stroke-width="3" shape-rendering="crispEdges"/><circle cx="1162.5" cy="260" r="8" stroke-width="3" shape-rendering="crispEdges"/><circle cx="1137.5" cy="270" r="8" stroke-width="3" shape-rendering="crispEdges"/><circle cx="1098.12" cy="305" r="8"/><circle cx="1112.5" cy="308.75" r="8"/><circle cx="1095.62" cy="313.12" r="8"/><circle cx="1178.75" cy="305" r="8" stroke-width="3" shape-rendering="crispEdges"/><circle cx="1179.38" cy="305.62" r="8" stroke-width="3" shape-rendering="crispEdges"/><circle cx="1152.75" cy="316" r="8"/><circle cx="1148.75" cy="322.75" r="8"/><circle cx="1180.62" cy="322.5" r="8" stroke-width="3" shape-rendering="crispEdges"/><circle cx="1180" cy="325" r="8"/><circle cx="1165" cy="330.62" r="8"/><circle cx="1171.5" cy="334.75" r="8"/><circle cx="1181.62" cy="384.38" r="8"/>
</g>
<g fill="#fdb515" fill-opacity="0.2" stroke="#fdb515" stroke-width="1.9">
<circle cx="1329.62" cy="198.12" r="8" stroke-width="3" shape-rendering="crispEdges"/><circle cx="1275.88" cy="204.38" r="8" stroke-width="3" shape-rendering="crispEdges"/><circle cx="1301.88" cy="219" r="8" stroke-width="3" shape-rendering="crispEdges"/><circle cx="1358.12" cy="231.88" r="8" stroke-width="3" shape-rendering="crispEdges"/><circle cx="1272.5" cy="240" r="8" stroke-width="3" shape-rendering="crispEdges"/><circle cx="1269.38" cy="245" r="8" stroke-width="3" shape-rendering="crispEdges"/><circle cx="1300.38" cy="243.75" r="8" stroke-width="3" shape-rendering="crispEdges"/><circle cx="1302.5" cy="255" r="8" stroke-width="3" shape-rendering="crispEdges"/><circle cx="1348.75" cy="245.62" r="8" stroke-width="3" shape-rendering="crispEdges"/><circle cx="1341.25" cy="253.75" r="8" stroke-width="3" shape-rendering="crispEdges"/><circle cx="1341.88" cy="254.38" r="8" stroke-width="3" shape-rendering="crispEdges"/><circle cx="1346.25" cy="260" r="8" stroke-width="3" shape-rendering="crispEdges"/><circle cx="1356.88" cy="269.38" r="8" stroke-width="3" shape-rendering="crispEdges"/><circle cx="1282.5" cy="255" r="8" stroke-width="3" shape-rendering="crispEdges"/><circle cx="1278.75" cy="260" r="8" stroke-width="3" shape-rendering="crispEdges"/><circle cx="1280" cy="261.25" r="8" stroke-width="3" shape-rendering="crispEdges"/><circle cx="1312.5" cy="270.62" r="8" stroke-width="3" shape-rendering="crispEdges"/><circle cx="1325" cy="269.38" r="8" stroke-width="3" shape-rendering="crispEdges"/><circle cx="1265" cy="275.62" r="8" stroke-width="3" shape-rendering="crispEdges"/><circle cx="1275" cy="275" r="8" stroke-width="3" shape-rendering="crispEdges"/><circle cx="1295" cy="273.75" r="8" stroke-width="3" shape-rendering="crispEdges"/><circle cx="1285" cy="280" r="8" stroke-width="3" shape-rendering="crispEdges"/><circle cx="1330" cy="278.75" r="8" stroke-width="3" shape-rendering="crispEdges"/><circle cx="1335" cy="282.5" r="8" stroke-width="3" shape-rendering="crispEdges"/><circle cx="1265" cy="290.62" r="8" stroke-width="3" shape-rendering="crispEdges"/><circle cx="1280" cy="288.75" r="8" stroke-width="3" shape-rendering="crispEdges"/><circle cx="1295" cy="290" r="8" stroke-width="3" shape-rendering="crispEdges"/><circle cx="1310" cy="288.75" r="8" stroke-width="3" shape-rendering="crispEdges"/><circle cx="1323.75" cy="290" r="8" stroke-width="3" shape-rendering="crispEdges"/><circle cx="1346.25" cy="290.62" r="8" stroke-width="3" shape-rendering="crispEdges"/><circle cx="1290" cy="270" r="8" stroke-width="3" shape-rendering="crispEdges"/><circle cx="1276.25" cy="283.75" r="8" stroke-width="3" shape-rendering="crispEdges"/><circle cx="1272.5" cy="267.5" r="8" stroke-width="3" shape-rendering="crispEdges"/><circle cx="1285" cy="267.5" r="8" stroke-width="3" shape-rendering="crispEdges"/><circle cx="1287.5" cy="276.25" r="8" stroke-width="3" shape-rendering="crispEdges"/><circle cx="1282.5" cy="286.25" r="8" stroke-width="3" shape-rendering="crispEdges"/><circle cx="1300" cy="280" r="8" stroke-width="3" shape-rendering="crispEdges"/><circle cx="1266.5" cy="321.5" r="8"/><circle cx="1303.12" cy="320.25" r="8"/><circle cx="1286.25" cy="303.75" r="8"/><circle cx="1300" cy="305" r="8"/><circle cx="1326.25" cy="303.75" r="8"/><circle cx="1336.25" cy="302.5" r="8"/><circle cx="1358.75" cy="305" r="8"/><circle cx="1359.38" cy="305.62" r="8"/><circle cx="1362.5" cy="306.25" r="8"/><circle cx="1355.62" cy="310" r="8"/><circle cx="1328.75" cy="320.62" r="8"/><circle cx="1331.88" cy="321.25" r="8"/><circle cx="1335" cy="320" r="8"/><circle cx="1357.25" cy="326.25" r="8"/><circle cx="1326.25" cy="334.75" r="8"/><circle cx="1356.5" cy="339.75" r="8"/><circle cx="1281.75" cy="344.62" r="8"/><circle cx="1299.62" cy="349" r="8"/><circle cx="1315.62" cy="350.38" r="8"/><circle cx="1336.5" cy="351.25" r="8"/><circle cx="1332.5" cy="360.62" r="8"/><circle cx="1349.38" cy="363.12" r="8"/><circle cx="1310" cy="366.88" r="8"/><circle cx="1285.88" cy="369.38" r="8"/><circle cx="1327.75" cy="372.75" r="8"/><circle cx="1279.75" cy="381.5" r="8"/><circle cx="1282.5" cy="381.5" r="8"/><circle cx="1285" cy="381.5" r="8"/><circle cx="1290" cy="381.88" r="8"/><circle cx="1336.5" cy="381.25" r="8"/><circle cx="1351.25" cy="382.5" r="8"/><circle cx="1354.38" cy="382.5" r="8"/><circle cx="1361.62" cy="385.25" r="8"/>
</g>
<circle cx="976" cy="252.75" r="6.4" fill="#000"/>
<path d="M933.75,247.25 H1017.75 M933.75,258.4 H1017.75" stroke="#000" stroke-width="2.2" fill="none"/>
<circle cx="1144.4" cy="265.25" r="6.4" fill="#000"/>
<path d="M1101.25,261.25 H1186.5 M1101.25,270.4 H1186.5" stroke="#000" stroke-width="2.4" fill="none"/>
<circle cx="1313.5" cy="300" r="6.4" fill="#000"/>
<path d="M1271,295.25 H1355.6 M1271,306.5 H1355.6" stroke="#000" stroke-width="2.6" fill="none"/>
<path d="M1419.4,39.9 C1419.54,42.42 1419.8,49.36 1420.25,55 C1420.7,60.64 1421.71,68.12 1422.12,73.75 C1422.54,79.38 1422.81,83.96 1422.75,88.75 C1422.69,93.54 1421.85,97.71 1421.75,102.5 C1421.65,107.29 1421.85,111.88 1422.12,117.5 C1422.4,123.12 1422.96,131.04 1423.38,136.25 C1423.79,141.46 1423.9,145.21 1424.62,148.75 C1425.35,152.29 1426.4,154.79 1427.75,157.5 C1429.1,160.21 1430.46,162.5 1432.75,165 C1435.04,167.5 1437.96,169.79 1441.5,172.5 C1445.04,175.21 1450.25,178.33 1454,181.25 C1457.75,184.17 1461.29,187.29 1464,190 C1466.71,192.71 1468.38,194.79 1470.25,197.5 C1472.12,200.21 1473.38,203.33 1475.25,206.25 C1477.12,209.17 1479.21,212.08 1481.5,215 C1483.79,217.92 1486.92,221.04 1489,223.75 C1491.08,226.46 1492.75,228.33 1494,231.25 C1495.25,234.17 1495.98,238.12 1496.5,241.25 C1497.02,244.38 1496.71,247.29 1497.12,250 C1497.54,252.71 1498.06,254.79 1499,257.5 C1499.94,260.21 1501.71,263.75 1502.75,266.25 C1503.79,268.75 1504.94,270.42 1505.25,272.5 C1505.56,274.58 1505.46,276.67 1504.62,278.75 C1503.79,280.83 1502.02,283.12 1500.25,285 C1498.48,286.88 1496.5,288.12 1494,290 C1491.5,291.88 1488.79,293.96 1485.25,296.25 C1481.71,298.54 1476.92,301.25 1472.75,303.75 C1468.58,306.25 1464,308.75 1460.25,311.25 C1456.5,313.75 1453.17,316.25 1450.25,318.75 C1447.33,321.25 1444.83,323.54 1442.75,326.25 C1440.67,328.96 1439,332.08 1437.75,335 C1436.5,337.92 1436.29,340.42 1435.25,343.75 C1434.21,347.08 1432.75,351.46 1431.5,355 C1430.25,358.54 1429,361.88 1427.75,365 C1426.5,368.12 1425.04,370.83 1424,373.75 C1422.96,376.67 1422.17,379.38 1421.5,382.5 C1420.83,385.62 1420.33,389.17 1420,392.5 C1419.67,395.83 1419.6,394 1419.5,402.5 C1419.4,411 1419.42,436.67 1419.4,443.5 L1419.4,39.9 Z" fill="#66b3ff" fill-opacity="0.2" stroke="none"/>
<path d="M1419.4,39.9 C1419.54,42.42 1419.8,49.36 1420.25,55 C1420.7,60.64 1421.71,68.12 1422.12,73.75 C1422.54,79.38 1422.81,83.96 1422.75,88.75 C1422.69,93.54 1421.85,97.71 1421.75,102.5 C1421.65,107.29 1421.85,111.88 1422.12,117.5 C1422.4,123.12 1422.96,131.04 1423.38,136.25 C1423.79,141.46 1423.9,145.21 1424.62,148.75 C1425.35,152.29 1426.4,154.79 1427.75,157.5 C1429.1,160.21 1430.46,162.5 1432.75,165 C1435.04,167.5 1437.96,169.79 1441.5,172.5 C1445.04,175.21 1450.25,178.33 1454,181.25 C1457.75,184.17 1461.29,187.29 1464,190 C1466.71,192.71 1468.38,194.79 1470.25,197.5 C1472.12,200.21 1473.38,203.33 1475.25,206.25 C1477.12,209.17 1479.21,212.08 1481.5,215 C1483.79,217.92 1486.92,221.04 1489,223.75 C1491.08,226.46 1492.75,228.33 1494,231.25 C1495.25,234.17 1495.98,238.12 1496.5,241.25 C1497.02,244.38 1496.71,247.29 1497.12,250 C1497.54,252.71 1498.06,254.79 1499,257.5 C1499.94,260.21 1501.71,263.75 1502.75,266.25 C1503.79,268.75 1504.94,270.42 1505.25,272.5 C1505.56,274.58 1505.46,276.67 1504.62,278.75 C1503.79,280.83 1502.02,283.12 1500.25,285 C1498.48,286.88 1496.5,288.12 1494,290 C1491.5,291.88 1488.79,293.96 1485.25,296.25 C1481.71,298.54 1476.92,301.25 1472.75,303.75 C1468.58,306.25 1464,308.75 1460.25,311.25 C1456.5,313.75 1453.17,316.25 1450.25,318.75 C1447.33,321.25 1444.83,323.54 1442.75,326.25 C1440.67,328.96 1439,332.08 1437.75,335 C1436.5,337.92 1436.29,340.42 1435.25,343.75 C1434.21,347.08 1432.75,351.46 1431.5,355 C1430.25,358.54 1429,361.88 1427.75,365 C1426.5,368.12 1425.04,370.83 1424,373.75 C1422.96,376.67 1422.17,379.38 1421.5,382.5 C1420.83,385.62 1420.33,389.17 1420,392.5 C1419.67,395.83 1419.6,394 1419.5,402.5 C1419.4,411 1419.42,436.67 1419.4,443.5" fill="none" stroke="#66b3ff" stroke-width="2.7" stroke-linejoin="round" stroke-linecap="round"/>
<path d="M1419.4,39.9 C1419.4,48.67 1419.15,81.23 1419.4,92.5 C1419.65,103.77 1420.32,103.33 1420.88,107.5 C1421.43,111.67 1422.29,114.17 1422.75,117.5 C1423.21,120.83 1423.52,124.17 1423.62,127.5 C1423.73,130.83 1423.48,134.38 1423.38,137.5 C1423.27,140.62 1422.85,143.33 1423,146.25 C1423.15,149.17 1423.88,152.71 1424.25,155 C1424.62,157.29 1424.46,157.71 1425.25,160 C1426.04,162.29 1427.96,165.62 1429,168.75 C1430.04,171.88 1431.08,175.62 1431.5,178.75 C1431.92,181.88 1431.19,184.79 1431.5,187.5 C1431.81,190.21 1432.12,192.5 1433.38,195 C1434.62,197.5 1436.4,200.21 1439,202.5 C1441.6,204.79 1444.83,206.56 1449,208.75 C1453.17,210.94 1459,213.33 1464,215.62 C1469,217.92 1474,220.21 1479,222.5 C1484,224.79 1489.42,226.88 1494,229.38 C1498.58,231.88 1503.17,234.9 1506.5,237.5 C1509.83,240.1 1512.17,242.5 1514,245 C1515.83,247.5 1517.08,250 1517.5,252.5 C1517.92,255 1517.19,257.5 1516.5,260 C1515.81,262.5 1514.1,265 1513.38,267.5 C1512.65,270 1512.02,272.08 1512.12,275 C1512.23,277.92 1513.58,282.5 1514,285 C1514.42,287.5 1515.25,288.12 1514.62,290 C1514,291.88 1512.44,294.17 1510.25,296.25 C1508.06,298.33 1505.67,300.1 1501.5,302.5 C1497.33,304.9 1491.08,307.71 1485.25,310.62 C1479.42,313.54 1472.54,316.77 1466.5,320 C1460.46,323.23 1454,326.88 1449,330 C1444,333.12 1440.04,335.83 1436.5,338.75 C1432.96,341.67 1429.94,344.79 1427.75,347.5 C1425.56,350.21 1424.31,352.29 1423.38,355 C1422.44,357.71 1422.23,360.83 1422.12,363.75 C1422.02,366.67 1422.48,369.38 1422.75,372.5 C1423.02,375.62 1423.71,379.17 1423.75,382.5 C1423.79,385.83 1423.38,389.17 1423,392.5 C1422.62,395.83 1421.96,398.75 1421.5,402.5 C1421.04,406.25 1420.5,410.21 1420.25,415 C1420,419.79 1420.14,427.08 1420,431.25 C1419.86,435.42 1419.5,437.96 1419.4,440 C1419.3,442.04 1419.4,442.92 1419.4,443.5 L1419.4,39.9 Z" fill="#006400" fill-opacity="0.2" stroke="none"/>
<path d="M1419.4,39.9 C1419.4,48.67 1419.15,81.23 1419.4,92.5 C1419.65,103.77 1420.32,103.33 1420.88,107.5 C1421.43,111.67 1422.29,114.17 1422.75,117.5 C1423.21,120.83 1423.52,124.17 1423.62,127.5 C1423.73,130.83 1423.48,134.38 1423.38,137.5 C1423.27,140.62 1422.85,143.33 1423,146.25 C1423.15,149.17 1423.88,152.71 1424.25,155 C1424.62,157.29 1424.46,157.71 1425.25,160 C1426.04,162.29 1427.96,165.62 1429,168.75 C1430.04,171.88 1431.08,175.62 1431.5,178.75 C1431.92,181.88 1431.19,184.79 1431.5,187.5 C1431.81,190.21 1432.12,192.5 1433.38,195 C1434.62,197.5 1436.4,200.21 1439,202.5 C1441.6,204.79 1444.83,206.56 1449,208.75 C1453.17,210.94 1459,213.33 1464,215.62 C1469,217.92 1474,220.21 1479,222.5 C1484,224.79 1489.42,226.88 1494,229.38 C1498.58,231.88 1503.17,234.9 1506.5,237.5 C1509.83,240.1 1512.17,242.5 1514,245 C1515.83,247.5 1517.08,250 1517.5,252.5 C1517.92,255 1517.19,257.5 1516.5,260 C1515.81,262.5 1514.1,265 1513.38,267.5 C1512.65,270 1512.02,272.08 1512.12,275 C1512.23,277.92 1513.58,282.5 1514,285 C1514.42,287.5 1515.25,288.12 1514.62,290 C1514,291.88 1512.44,294.17 1510.25,296.25 C1508.06,298.33 1505.67,300.1 1501.5,302.5 C1497.33,304.9 1491.08,307.71 1485.25,310.62 C1479.42,313.54 1472.54,316.77 1466.5,320 C1460.46,323.23 1454,326.88 1449,330 C1444,333.12 1440.04,335.83 1436.5,338.75 C1432.96,341.67 1429.94,344.79 1427.75,347.5 C1425.56,350.21 1424.31,352.29 1423.38,355 C1422.44,357.71 1422.23,360.83 1422.12,363.75 C1422.02,366.67 1422.48,369.38 1422.75,372.5 C1423.02,375.62 1423.71,379.17 1423.75,382.5 C1423.79,385.83 1423.38,389.17 1423,392.5 C1422.62,395.83 1421.96,398.75 1421.5,402.5 C1421.04,406.25 1420.5,410.21 1420.25,415 C1420,419.79 1420.14,427.08 1420,431.25 C1419.86,435.42 1419.5,437.96 1419.4,440 C1419.3,442.04 1419.4,442.92 1419.4,443.5" fill="none" stroke="#006400" stroke-width="2.7" stroke-linejoin="round" stroke-linecap="round"/>
<path d="M1419.4,39.9 C1419.4,48.67 1419.36,75.4 1419.4,92.5 C1419.44,109.6 1419.48,129.17 1419.62,142.5 C1419.77,155.83 1419.52,165.42 1420.25,172.5 C1420.98,179.58 1422.54,180.62 1424,185 C1425.46,189.38 1427.33,194.58 1429,198.75 C1430.67,202.92 1432.12,206.46 1434,210 C1435.88,213.54 1437.75,216.88 1440.25,220 C1442.75,223.12 1445.67,225.94 1449,228.75 C1452.33,231.56 1456.29,234.17 1460.25,236.88 C1464.21,239.58 1468.58,242.29 1472.75,245 C1476.92,247.71 1481.29,250.42 1485.25,253.12 C1489.21,255.83 1493.17,258.54 1496.5,261.25 C1499.83,263.96 1502.85,266.67 1505.25,269.38 C1507.65,272.08 1509.52,274.9 1510.88,277.5 C1512.23,280.1 1513.06,282.92 1513.38,285 C1513.69,287.08 1513.48,288.12 1512.75,290 C1512.02,291.88 1510.88,294.17 1509,296.25 C1507.12,298.33 1504.83,300 1501.5,302.5 C1498.17,305 1493.17,308.33 1489,311.25 C1484.83,314.17 1480.25,317.08 1476.5,320 C1472.75,322.92 1469.1,325.83 1466.5,328.75 C1463.9,331.67 1462.02,334.79 1460.88,337.5 C1459.73,340.21 1459.62,342.29 1459.62,345 C1459.62,347.71 1460.25,350.83 1460.88,353.75 C1461.5,356.67 1462.79,359.79 1463.38,362.5 C1463.96,365.21 1464.48,367.5 1464.38,370 C1464.27,372.5 1464.06,374.79 1462.75,377.5 C1461.44,380.21 1459.21,383.33 1456.5,386.25 C1453.79,389.17 1450.04,392.19 1446.5,395 C1442.96,397.81 1437.75,401.25 1435.25,403.12 C1432.75,405 1433.17,404.48 1431.5,406.25 C1429.83,408.02 1426.92,411.04 1425.25,413.75 C1423.58,416.46 1422.38,419.38 1421.5,422.5 C1420.62,425.62 1420.35,429 1420,432.5 C1419.65,436 1419.5,441.67 1419.4,443.5 L1419.4,39.9 Z" fill="#fdb515" fill-opacity="0.2" stroke="none"/>
<path d="M1419.4,39.9 C1419.4,48.67 1419.36,75.4 1419.4,92.5 C1419.44,109.6 1419.48,129.17 1419.62,142.5 C1419.77,155.83 1419.52,165.42 1420.25,172.5 C1420.98,179.58 1422.54,180.62 1424,185 C1425.46,189.38 1427.33,194.58 1429,198.75 C1430.67,202.92 1432.12,206.46 1434,210 C1435.88,213.54 1437.75,216.88 1440.25,220 C1442.75,223.12 1445.67,225.94 1449,228.75 C1452.33,231.56 1456.29,234.17 1460.25,236.88 C1464.21,239.58 1468.58,242.29 1472.75,245 C1476.92,247.71 1481.29,250.42 1485.25,253.12 C1489.21,255.83 1493.17,258.54 1496.5,261.25 C1499.83,263.96 1502.85,266.67 1505.25,269.38 C1507.65,272.08 1509.52,274.9 1510.88,277.5 C1512.23,280.1 1513.06,282.92 1513.38,285 C1513.69,287.08 1513.48,288.12 1512.75,290 C1512.02,291.88 1510.88,294.17 1509,296.25 C1507.12,298.33 1504.83,300 1501.5,302.5 C1498.17,305 1493.17,308.33 1489,311.25 C1484.83,314.17 1480.25,317.08 1476.5,320 C1472.75,322.92 1469.1,325.83 1466.5,328.75 C1463.9,331.67 1462.02,334.79 1460.88,337.5 C1459.73,340.21 1459.62,342.29 1459.62,345 C1459.62,347.71 1460.25,350.83 1460.88,353.75 C1461.5,356.67 1462.79,359.79 1463.38,362.5 C1463.96,365.21 1464.48,367.5 1464.38,370 C1464.27,372.5 1464.06,374.79 1462.75,377.5 C1461.44,380.21 1459.21,383.33 1456.5,386.25 C1453.79,389.17 1450.04,392.19 1446.5,395 C1442.96,397.81 1437.75,401.25 1435.25,403.12 C1432.75,405 1433.17,404.48 1431.5,406.25 C1429.83,408.02 1426.92,411.04 1425.25,413.75 C1423.58,416.46 1422.38,419.38 1421.5,422.5 C1420.62,425.62 1420.35,429 1420,432.5 C1419.65,436 1419.5,441.67 1419.4,443.5" fill="none" stroke="#fdb515" stroke-width="2.7" stroke-linejoin="round" stroke-linecap="round"/>
<path d="M91.45,550.6 V996.9 H630.8" fill="none" stroke="#0a0a0a" stroke-width="1.45"/>
<line x1="91.45" y1="570.5" x2="103.95" y2="570.5" stroke="#0a0a0a" stroke-width="1.4"/>
<line x1="91.45" y1="695.5" x2="103.95" y2="695.5" stroke="#0a0a0a" stroke-width="1.4"/>
<line x1="91.45" y1="820.5" x2="103.95" y2="820.5" stroke="#0a0a0a" stroke-width="1.4"/>
<line x1="91.45" y1="945.5" x2="103.95" y2="945.5" stroke="#0a0a0a" stroke-width="1.4"/>
<line x1="192.25" y1="996.9" x2="192.25" y2="984.1" stroke="#0a0a0a" stroke-width="1.4"/>
<line x1="360.75" y1="996.9" x2="360.75" y2="984.1" stroke="#0a0a0a" stroke-width="1.4"/>
<line x1="529.6" y1="996.9" x2="529.6" y2="984.1" stroke="#0a0a0a" stroke-width="1.4"/>
<text transform="translate(51.58,578.2) scale(1.0210,1)" font-size="23.9">34</text>
<text transform="translate(52.83,703.2) scale(1.0230,1)" font-size="23.9">32</text>
<text transform="translate(49.75,828.2) scale(1.1117,1)" font-size="23.9">30</text>
<text transform="translate(51.73,953.2) scale(1.0589,1)" font-size="23.9">28</text>
<text transform="translate(155.68,1029.8) scale(1.0146,1)" font-size="28.3">Down</text>
<text transform="translate(312.17,1029.8) scale(1.0791,1)" font-size="28.3">Control</text>
<text transform="translate(510.84,1029.8) scale(1.0296,1)" font-size="28.3">Up</text>
<g fill="#66b3ff" fill-opacity="0.2" stroke="#66b3ff" stroke-width="1.9">
<circle cx="157.25" cy="683.12" r="8"/><circle cx="229" cy="689.38" r="8"/><circle cx="172.25" cy="695.62" r="8"/><circle cx="162.12" cy="701.62" r="8"/><circle cx="186.62" cy="701.88" r="8"/><circle cx="195" cy="701.88" r="8"/><circle cx="155.62" cy="713.75" r="8"/><circle cx="226" cy="713.75" r="8"/><circle cx="153.75" cy="718.75" r="7.8" stroke-width="2.6" shape-rendering="crispEdges"/><circle cx="170" cy="720" r="7.8" stroke-width="2.6" shape-rendering="crispEdges"/><circle cx="185.62" cy="720.62" r="7.8" stroke-width="2.6" shape-rendering="crispEdges"/><circle cx="146.88" cy="726.25" r="8"/><circle cx="202.5" cy="721.25" r="7.8" stroke-width="2.6" shape-rendering="crispEdges"/><circle cx="203.75" cy="726.25" r="7.8" stroke-width="2.6" shape-rendering="crispEdges"/><circle cx="212.5" cy="720" r="7.8" stroke-width="2.6" shape-rendering="crispEdges"/><circle cx="218.75" cy="726.25" r="7.8" stroke-width="2.6" shape-rendering="crispEdges"/><circle cx="226.25" cy="726.25" r="7.8" stroke-width="2.6" shape-rendering="crispEdges"/><circle cx="234.38" cy="726.25" r="7.8" stroke-width="2.6" shape-rendering="crispEdges"/><circle cx="143.75" cy="738.75" r="7.8" stroke-width="2.6" shape-rendering="crispEdges"/><circle cx="147.5" cy="740" r="7.8" stroke-width="2.6" shape-rendering="crispEdges"/><circle cx="156.25" cy="738.75" r="7.8" stroke-width="2.6" shape-rendering="crispEdges"/><circle cx="164.38" cy="738.75" r="7.8" stroke-width="2.6" shape-rendering="crispEdges"/><circle cx="141.88" cy="745" r="7.8" stroke-width="2.6" shape-rendering="crispEdges"/><circle cx="143.75" cy="750" r="7.8" stroke-width="2.6" shape-rendering="crispEdges"/><circle cx="145.62" cy="752.5" r="8"/><circle cx="160.25" cy="758.12" r="8"/><circle cx="216.25" cy="745" r="8"/><circle cx="235.62" cy="745" r="8"/><circle cx="235.62" cy="750" r="7.8" stroke-width="2.6" shape-rendering="crispEdges"/><circle cx="180" cy="757.5" r="7.8" stroke-width="2.6" shape-rendering="crispEdges"/><circle cx="187.5" cy="752.5" r="7.8" stroke-width="2.6" shape-rendering="crispEdges"/><circle cx="195" cy="750" r="7.8" stroke-width="2.6" shape-rendering="crispEdges"/><circle cx="200" cy="753.75" r="7.8" stroke-width="2.6" shape-rendering="crispEdges"/><circle cx="192.5" cy="758.75" r="7.8" stroke-width="2.6" shape-rendering="crispEdges"/><circle cx="216.25" cy="757.5" r="7.8" stroke-width="2.6" shape-rendering="crispEdges"/><circle cx="240" cy="762.5" r="7.8" stroke-width="2.6" shape-rendering="crispEdges"/><circle cx="225" cy="766.25" r="7.8" stroke-width="2.6" shape-rendering="crispEdges"/><circle cx="213.75" cy="770" r="8"/><circle cx="237.5" cy="770" r="7.8" stroke-width="2.6" shape-rendering="crispEdges"/><circle cx="185" cy="755" r="7.8" stroke-width="2.6" shape-rendering="crispEdges"/><circle cx="197.5" cy="757.5" r="7.8" stroke-width="2.6" shape-rendering="crispEdges"/><circle cx="190" cy="756.25" r="7.8" stroke-width="2.6" shape-rendering="crispEdges"/><circle cx="230" cy="763.75" r="7.8" stroke-width="2.6" shape-rendering="crispEdges"/><circle cx="220" cy="767.5" r="7.8" stroke-width="2.6" shape-rendering="crispEdges"/><circle cx="235" cy="766.25" r="7.8" stroke-width="2.6" shape-rendering="crispEdges"/><circle cx="162.5" cy="776.25" r="7.8" stroke-width="2.6" shape-rendering="crispEdges"/><circle cx="180" cy="776.25" r="7.8" stroke-width="2.6" shape-rendering="crispEdges"/><circle cx="226.88" cy="783.75" r="8"/><circle cx="181.25" cy="792.5" r="7.8" stroke-width="2.6" shape-rendering="crispEdges"/><circle cx="187.5" cy="795" r="7.8" stroke-width="2.6" shape-rendering="crispEdges"/><circle cx="193.75" cy="791.25" r="7.8" stroke-width="2.6" shape-rendering="crispEdges"/><circle cx="202.5" cy="788.75" r="7.8" stroke-width="2.6" shape-rendering="crispEdges"/><circle cx="155" cy="801.88" r="7.8" stroke-width="2.6" shape-rendering="crispEdges"/><circle cx="158.75" cy="801.88" r="7.8" stroke-width="2.6" shape-rendering="crispEdges"/><circle cx="178.75" cy="801.88" r="8"/><circle cx="211.25" cy="807.5" r="7.8" stroke-width="2.6" shape-rendering="crispEdges"/><circle cx="207.5" cy="808.75" r="7.8" stroke-width="2.6" shape-rendering="crispEdges"/><circle cx="190" cy="815" r="7.8" stroke-width="2.6" shape-rendering="crispEdges"/><circle cx="198.75" cy="816.25" r="7.8" stroke-width="2.6" shape-rendering="crispEdges"/><circle cx="185" cy="822.5" r="7.8" stroke-width="2.6" shape-rendering="crispEdges"/><circle cx="149" cy="820.62" r="7.8" stroke-width="2.6" shape-rendering="crispEdges"/><circle cx="165.38" cy="832.88" r="7.8" stroke-width="2.6" shape-rendering="crispEdges"/><circle cx="183.12" cy="826.88" r="8"/><circle cx="204.38" cy="826.88" r="7.8" stroke-width="2.6" shape-rendering="crispEdges"/><circle cx="233.5" cy="839.12" r="8"/><circle cx="241.25" cy="839.12" r="8"/><circle cx="150.62" cy="845.62" r="8"/><circle cx="150" cy="851.88" r="8"/><circle cx="153.5" cy="864.12" r="8"/><circle cx="182.75" cy="851.62" r="8"/><circle cx="198.75" cy="845.62" r="8"/><circle cx="201.88" cy="857.88" r="8"/><circle cx="171.25" cy="876.62" r="8"/><circle cx="173.75" cy="889.12" r="8"/><circle cx="187.5" cy="788.75" r="7.8" stroke-width="2.6" shape-rendering="crispEdges"/><circle cx="195" cy="812.5" r="7.8" stroke-width="2.6" shape-rendering="crispEdges"/><circle cx="192.5" cy="820" r="7.8" stroke-width="2.6" shape-rendering="crispEdges"/><circle cx="242" cy="932.9" r="8"/>
</g>
<g fill="#006400" fill-opacity="0.2" stroke="#006400" stroke-width="1.9">
<circle cx="327.12" cy="682.75" r="8"/><circle cx="316.88" cy="689.38" r="8"/><circle cx="336.5" cy="695.62" r="8"/><circle cx="336.75" cy="695.88" r="8"/><circle cx="403.12" cy="683.12" r="8"/><circle cx="387.12" cy="689" r="8"/><circle cx="389.62" cy="701.88" r="8"/><circle cx="405.88" cy="708.12" r="8"/><circle cx="311.25" cy="707.5" r="8"/><circle cx="319.38" cy="708.12" r="8"/><circle cx="356.25" cy="701.25" r="8"/><circle cx="360.62" cy="701.88" r="8"/><circle cx="358.75" cy="705" r="8"/><circle cx="355" cy="708.12" r="8"/><circle cx="371.25" cy="707.5" r="8"/><circle cx="373.75" cy="710" r="8"/><circle cx="392.5" cy="713.75" r="8"/><circle cx="396.25" cy="716.25" r="8"/><circle cx="315" cy="715" r="8"/><circle cx="313.12" cy="720.62" r="8" stroke-width="3" shape-rendering="crispEdges"/><circle cx="317.5" cy="722.5" r="8" stroke-width="3" shape-rendering="crispEdges"/><circle cx="340" cy="720" r="8" stroke-width="3" shape-rendering="crispEdges"/><circle cx="345" cy="720" r="8" stroke-width="3" shape-rendering="crispEdges"/><circle cx="350" cy="720" r="8" stroke-width="3" shape-rendering="crispEdges"/><circle cx="355" cy="720" r="8" stroke-width="3" shape-rendering="crispEdges"/><circle cx="370" cy="720" r="8" stroke-width="3" shape-rendering="crispEdges"/><circle cx="375" cy="721.25" r="8" stroke-width="3" shape-rendering="crispEdges"/><circle cx="377.5" cy="726.25" r="8" stroke-width="3" shape-rendering="crispEdges"/><circle cx="401.88" cy="720.62" r="8" stroke-width="3" shape-rendering="crispEdges"/><circle cx="320" cy="728.75" r="8" stroke-width="3" shape-rendering="crispEdges"/><circle cx="332.5" cy="730" r="8"/><circle cx="362.5" cy="730" r="8"/><circle cx="370" cy="730" r="8" stroke-width="3" shape-rendering="crispEdges"/><circle cx="395.62" cy="732.5" r="8" stroke-width="3" shape-rendering="crispEdges"/><circle cx="311.25" cy="738.75" r="8" stroke-width="3" shape-rendering="crispEdges"/><circle cx="313.75" cy="741.25" r="8" stroke-width="3" shape-rendering="crispEdges"/><circle cx="322.5" cy="737.5" r="8" stroke-width="3" shape-rendering="crispEdges"/><circle cx="332.5" cy="737.5" r="8" stroke-width="3" shape-rendering="crispEdges"/><circle cx="345" cy="737.5" r="8" stroke-width="3" shape-rendering="crispEdges"/><circle cx="313.75" cy="747.5" r="8" stroke-width="3" shape-rendering="crispEdges"/><circle cx="320" cy="752.5" r="8" stroke-width="3" shape-rendering="crispEdges"/><circle cx="330" cy="752.5" r="8" stroke-width="3" shape-rendering="crispEdges"/><circle cx="342.5" cy="752.5" r="8" stroke-width="3" shape-rendering="crispEdges"/><circle cx="357.5" cy="751.25" r="8" stroke-width="3" shape-rendering="crispEdges"/><circle cx="377.5" cy="752.5" r="8" stroke-width="3" shape-rendering="crispEdges"/><circle cx="382.5" cy="757.5" r="8" stroke-width="3" shape-rendering="crispEdges"/><circle cx="388.75" cy="757.5" r="8" stroke-width="3" shape-rendering="crispEdges"/><circle cx="403.75" cy="751.88" r="8"/><circle cx="405" cy="757.5" r="8" stroke-width="3" shape-rendering="crispEdges"/><circle cx="395" cy="760" r="8" stroke-width="3" shape-rendering="crispEdges"/><circle cx="317.5" cy="770" r="8" stroke-width="3" shape-rendering="crispEdges"/><circle cx="330" cy="768.75" r="8" stroke-width="3" shape-rendering="crispEdges"/><circle cx="347.5" cy="770" r="8" stroke-width="3" shape-rendering="crispEdges"/><circle cx="332.5" cy="762.5" r="8" stroke-width="3" shape-rendering="crispEdges"/><circle cx="395" cy="770" r="8" stroke-width="3" shape-rendering="crispEdges"/><circle cx="405" cy="770" r="8" stroke-width="3" shape-rendering="crispEdges"/><circle cx="400" cy="765" r="8" stroke-width="3" shape-rendering="crispEdges"/><circle cx="325" cy="725" r="8" stroke-width="3" shape-rendering="crispEdges"/><circle cx="327.5" cy="735" r="8" stroke-width="3" shape-rendering="crispEdges"/><circle cx="317.5" cy="743.75" r="8" stroke-width="3" shape-rendering="crispEdges"/><circle cx="325" cy="760" r="8" stroke-width="3" shape-rendering="crispEdges"/><circle cx="372.5" cy="726.25" r="8" stroke-width="3" shape-rendering="crispEdges"/><circle cx="392.5" cy="755" r="8" stroke-width="3" shape-rendering="crispEdges"/><circle cx="390" cy="765" r="8" stroke-width="3" shape-rendering="crispEdges"/><circle cx="357.5" cy="726.25" r="8" stroke-width="3" shape-rendering="crispEdges"/><circle cx="386.25" cy="760" r="8" stroke-width="3" shape-rendering="crispEdges"/><circle cx="400" cy="758.75" r="8" stroke-width="3" shape-rendering="crispEdges"/><circle cx="360.38" cy="783.12" r="8" stroke-width="3" shape-rendering="crispEdges"/><circle cx="410.25" cy="789.38" r="8"/><circle cx="324" cy="808.12" r="8" stroke-width="3" shape-rendering="crispEdges"/><circle cx="350" cy="808.12" r="8" stroke-width="3" shape-rendering="crispEdges"/><circle cx="357.5" cy="814.75" r="8" stroke-width="3" shape-rendering="crispEdges"/><circle cx="347.75" cy="826.88" r="8" stroke-width="3" shape-rendering="crispEdges"/><circle cx="405.62" cy="770.62" r="8"/>
</g>
<g fill="#fdb515" fill-opacity="0.2" stroke="#fdb515" stroke-width="1.9">
<circle cx="489.62" cy="639.62" r="8"/><circle cx="503.5" cy="645.62" r="8"/><circle cx="518.12" cy="639.38" r="8"/><circle cx="576.62" cy="645.62" r="8" stroke-width="3" shape-rendering="crispEdges"/><circle cx="554" cy="651.88" r="8"/><circle cx="521" cy="658.12" r="8"/><circle cx="549.38" cy="664.38" r="8"/><circle cx="482.5" cy="670.62" r="8" stroke-width="3" shape-rendering="crispEdges"/><circle cx="486.25" cy="670.62" r="8" stroke-width="3" shape-rendering="crispEdges"/><circle cx="484.38" cy="670.88" r="8" stroke-width="3" shape-rendering="crispEdges"/><circle cx="538.75" cy="670.62" r="8" stroke-width="3" shape-rendering="crispEdges"/><circle cx="537.5" cy="670.88" r="8" stroke-width="3" shape-rendering="crispEdges"/><circle cx="555" cy="670.62" r="8"/><circle cx="562.5" cy="670" r="8" stroke-width="3" shape-rendering="crispEdges"/><circle cx="567.5" cy="673.75" r="8" stroke-width="3" shape-rendering="crispEdges"/><circle cx="571.25" cy="681.25" r="8" stroke-width="3" shape-rendering="crispEdges"/><circle cx="507.25" cy="676.25" r="8"/><circle cx="497.5" cy="683.12" r="8"/><circle cx="490" cy="683.12" r="8"/><circle cx="515" cy="683.12" r="8"/><circle cx="510" cy="688.75" r="8"/><circle cx="520" cy="690" r="8"/><circle cx="490" cy="688.75" r="8"/><circle cx="561.88" cy="695" r="8"/><circle cx="577.5" cy="701.25" r="8" stroke-width="3" shape-rendering="crispEdges"/><circle cx="575" cy="707.5" r="8" stroke-width="3" shape-rendering="crispEdges"/><circle cx="491.25" cy="701.88" r="8"/><circle cx="502.5" cy="702.5" r="8"/><circle cx="508.75" cy="701.25" r="8"/><circle cx="515" cy="702.5" r="8"/><circle cx="527.5" cy="701.25" r="8"/><circle cx="541.25" cy="701.88" r="8"/><circle cx="537.5" cy="707.5" r="8"/><circle cx="502.5" cy="708.75" r="8"/><circle cx="569.38" cy="687.5" r="8" stroke-width="3" shape-rendering="crispEdges"/><circle cx="571.25" cy="696.25" r="8" stroke-width="3" shape-rendering="crispEdges"/><circle cx="480" cy="732.88" r="8"/><circle cx="480.25" cy="745.62" r="8"/><circle cx="493.5" cy="745.62" r="8"/><circle cx="502.5" cy="739.12" r="8"/><circle cx="503.12" cy="739.38" r="8"/><circle cx="521.25" cy="739.38" r="8"/><circle cx="536.88" cy="739.38" r="8"/><circle cx="534.38" cy="751.88" r="8"/><circle cx="513.12" cy="757.88" r="8"/><circle cx="523.75" cy="770.62" r="8"/><circle cx="556.25" cy="745.62" r="8"/><circle cx="555" cy="732.5" r="8"/><circle cx="546.25" cy="720.62" r="8"/><circle cx="546.25" cy="726.88" r="8"/><circle cx="520" cy="726.88" r="8"/><circle cx="512.5" cy="720.62" r="8"/><circle cx="510" cy="715" r="8"/><circle cx="527.5" cy="714.38" r="8"/><circle cx="517.5" cy="716.25" r="8"/><circle cx="507.5" cy="718.75" r="8"/><circle cx="570" cy="721.25" r="8" stroke-width="3" shape-rendering="crispEdges"/><circle cx="565" cy="726.25" r="8" stroke-width="3" shape-rendering="crispEdges"/><circle cx="572.5" cy="723.75" r="8" stroke-width="3" shape-rendering="crispEdges"/><circle cx="580" cy="733.12" r="8" stroke-width="3" shape-rendering="crispEdges"/><circle cx="567.5" cy="736.25" r="8" stroke-width="3" shape-rendering="crispEdges"/><circle cx="576" cy="751.88" r="8" stroke-width="3" shape-rendering="crispEdges"/><circle cx="575.25" cy="770.62" r="8" stroke-width="3" shape-rendering="crispEdges"/><circle cx="570.62" cy="795.62" r="8" stroke-width="3" shape-rendering="crispEdges"/>
</g>
<circle cx="192.25" cy="774.4" r="6.4" fill="#000"/>
<path d="M150,768.25 H235 M150,781 H235" stroke="#000" stroke-width="2.7" fill="none"/>
<circle cx="360.9" cy="738.75" r="6.4" fill="#000"/>
<path d="M318.1,735.5 H403.75 M318.1,742.25 H403.75" stroke="#000" stroke-width="2.7" fill="none"/>
<circle cx="529.6" cy="705.25" r="6.4" fill="#000"/>
<path d="M487.5,701.5 H571.9 M487.5,709.4 H571.9" stroke="#000" stroke-width="2.3" fill="none"/>
<path d="M636,572.2 C636,578.5 635.92,597.45 636,610 C636.08,622.55 636.25,639.58 636.5,647.5 C636.75,655.42 636.71,653.75 637.5,657.5 C638.29,661.25 639.58,666.25 641.25,670 C642.92,673.75 645.42,676.88 647.5,680 C649.58,683.12 651.25,685.62 653.75,688.75 C656.25,691.88 659.38,695.42 662.5,698.75 C665.62,702.08 669.38,705.42 672.5,708.75 C675.62,712.08 678.54,715.21 681.25,718.75 C683.96,722.29 686.67,726.46 688.75,730 C690.83,733.54 692.4,736.88 693.75,740 C695.1,743.12 696.21,745.83 696.88,748.75 C697.54,751.67 697.75,754.58 697.75,757.5 C697.75,760.42 697.54,763.33 696.88,766.25 C696.21,769.17 695.31,771.67 693.75,775 C692.19,778.33 689.58,782.5 687.5,786.25 C685.42,790 683.12,793.75 681.25,797.5 C679.38,801.25 677.71,805.42 676.25,808.75 C674.79,812.08 673.96,813.54 672.5,817.5 C671.04,821.46 669.38,827.5 667.5,832.5 C665.62,837.5 663.54,842.5 661.25,847.5 C658.96,852.5 656.04,857.71 653.75,862.5 C651.46,867.29 649.27,871.88 647.5,876.25 C645.73,880.62 644.33,884.58 643.12,888.75 C641.92,892.92 640.98,896.46 640.25,901.25 C639.52,906.04 639.15,912.29 638.75,917.5 C638.35,922.71 638.19,926.25 637.88,932.5 C637.56,938.75 637.19,947.83 636.88,955 C636.56,962.17 636.15,972.08 636,975.5 L636,572.2 Z" fill="#66b3ff" fill-opacity="0.2" stroke="none"/>
<path d="M636,572.2 C636,578.5 635.92,597.45 636,610 C636.08,622.55 636.25,639.58 636.5,647.5 C636.75,655.42 636.71,653.75 637.5,657.5 C638.29,661.25 639.58,666.25 641.25,670 C642.92,673.75 645.42,676.88 647.5,680 C649.58,683.12 651.25,685.62 653.75,688.75 C656.25,691.88 659.38,695.42 662.5,698.75 C665.62,702.08 669.38,705.42 672.5,708.75 C675.62,712.08 678.54,715.21 681.25,718.75 C683.96,722.29 686.67,726.46 688.75,730 C690.83,733.54 692.4,736.88 693.75,740 C695.1,743.12 696.21,745.83 696.88,748.75 C697.54,751.67 697.75,754.58 697.75,757.5 C697.75,760.42 697.54,763.33 696.88,766.25 C696.21,769.17 695.31,771.67 693.75,775 C692.19,778.33 689.58,782.5 687.5,786.25 C685.42,790 683.12,793.75 681.25,797.5 C679.38,801.25 677.71,805.42 676.25,808.75 C674.79,812.08 673.96,813.54 672.5,817.5 C671.04,821.46 669.38,827.5 667.5,832.5 C665.62,837.5 663.54,842.5 661.25,847.5 C658.96,852.5 656.04,857.71 653.75,862.5 C651.46,867.29 649.27,871.88 647.5,876.25 C645.73,880.62 644.33,884.58 643.12,888.75 C641.92,892.92 640.98,896.46 640.25,901.25 C639.52,906.04 639.15,912.29 638.75,917.5 C638.35,922.71 638.19,926.25 637.88,932.5 C637.56,938.75 637.19,947.83 636.88,955 C636.56,962.17 636.15,972.08 636,975.5" fill="none" stroke="#66b3ff" stroke-width="2.7" stroke-linejoin="round" stroke-linecap="round"/>
<path d="M636,572.2 C636,578.5 636,597.45 636,610 C636,622.55 635.96,639.58 636,647.5 C636.04,655.42 635.79,654.58 636.25,657.5 C636.71,660.42 637.5,662.71 638.75,665 C640,667.29 641.46,669.17 643.75,671.25 C646.04,673.33 649.38,675.52 652.5,677.5 C655.62,679.48 659.17,681.25 662.5,683.12 C665.83,685 669.17,686.56 672.5,688.75 C675.83,690.94 678.33,693.96 682.5,696.25 C686.67,698.54 692.92,700.42 697.5,702.5 C702.08,704.58 706.25,706.88 710,708.75 C713.75,710.62 717.4,712.08 720,713.75 C722.6,715.42 724.27,716.67 725.62,718.75 C726.98,720.83 727.29,723.54 728.12,726.25 C728.96,728.96 729.79,732.29 730.62,735 C731.46,737.71 732.6,740.21 733.12,742.5 C733.65,744.79 734.06,746.88 733.75,748.75 C733.44,750.62 732.71,752.08 731.25,753.75 C729.79,755.42 727.71,757.08 725,758.75 C722.29,760.42 718.75,762.08 715,763.75 C711.25,765.42 707.08,766.98 702.5,768.75 C697.92,770.52 692.5,772.5 687.5,774.38 C682.5,776.25 677.29,778.02 672.5,780 C667.71,781.98 662.29,784.38 658.75,786.25 C655.21,788.12 652.96,789.58 651.25,791.25 C649.54,792.92 649.02,794.38 648.5,796.25 C647.98,798.12 648.04,800.42 648.12,802.5 C648.21,804.58 649,806.67 649,808.75 C649,810.83 648.58,813.12 648.12,815 C647.67,816.88 647.29,817.5 646.25,820 C645.21,822.5 643.23,826.67 641.88,830 C640.52,833.33 639.02,836.67 638.12,840 C637.23,843.33 636.85,847.08 636.5,850 C636.15,852.92 636.08,836.58 636,857.5 C635.92,878.42 636,955.83 636,975.5 L636,572.2 Z" fill="#006400" fill-opacity="0.2" stroke="none"/>
<path d="M636,572.2 C636,578.5 636,597.45 636,610 C636,622.55 635.96,639.58 636,647.5 C636.04,655.42 635.79,654.58 636.25,657.5 C636.71,660.42 637.5,662.71 638.75,665 C640,667.29 641.46,669.17 643.75,671.25 C646.04,673.33 649.38,675.52 652.5,677.5 C655.62,679.48 659.17,681.25 662.5,683.12 C665.83,685 669.17,686.56 672.5,688.75 C675.83,690.94 678.33,693.96 682.5,696.25 C686.67,698.54 692.92,700.42 697.5,702.5 C702.08,704.58 706.25,706.88 710,708.75 C713.75,710.62 717.4,712.08 720,713.75 C722.6,715.42 724.27,716.67 725.62,718.75 C726.98,720.83 727.29,723.54 728.12,726.25 C728.96,728.96 729.79,732.29 730.62,735 C731.46,737.71 732.6,740.21 733.12,742.5 C733.65,744.79 734.06,746.88 733.75,748.75 C733.44,750.62 732.71,752.08 731.25,753.75 C729.79,755.42 727.71,757.08 725,758.75 C722.29,760.42 718.75,762.08 715,763.75 C711.25,765.42 707.08,766.98 702.5,768.75 C697.92,770.52 692.5,772.5 687.5,774.38 C682.5,776.25 677.29,778.02 672.5,780 C667.71,781.98 662.29,784.38 658.75,786.25 C655.21,788.12 652.96,789.58 651.25,791.25 C649.54,792.92 649.02,794.38 648.5,796.25 C647.98,798.12 648.04,800.42 648.12,802.5 C648.21,804.58 649,806.67 649,808.75 C649,810.83 648.58,813.12 648.12,815 C647.67,816.88 647.29,817.5 646.25,820 C645.21,822.5 643.23,826.67 641.88,830 C640.52,833.33 639.02,836.67 638.12,840 C637.23,843.33 636.85,847.08 636.5,850 C636.15,852.92 636.08,836.58 636,857.5 C635.92,878.42 636,955.83 636,975.5" fill="none" stroke="#006400" stroke-width="2.7" stroke-linejoin="round" stroke-linecap="round"/>
<path d="M636,572.2 C636,574.33 635.96,579.12 636,585 C636.04,590.88 636,602.5 636.25,607.5 C636.5,612.5 636.77,612.5 637.5,615 C638.23,617.5 638.96,619.79 640.62,622.5 C642.29,625.21 644.9,628.33 647.5,631.25 C650.1,634.17 653.54,637.29 656.25,640 C658.96,642.71 661.46,645.31 663.75,647.5 C666.04,649.69 667.5,651.25 670,653.12 C672.5,655 675.83,656.98 678.75,658.75 C681.67,660.52 684.38,661.88 687.5,663.75 C690.62,665.62 694.58,667.92 697.5,670 C700.42,672.08 702.92,674.17 705,676.25 C707.08,678.33 708.12,680.42 710,682.5 C711.88,684.58 713.75,686.67 716.25,688.75 C718.75,690.83 722.71,693.02 725,695 C727.29,696.98 729,698.96 730,700.62 C731,702.29 731.21,703.44 731,705 C730.79,706.56 730.17,708.33 728.75,710 C727.33,711.67 725,713.12 722.5,715 C720,716.88 716.46,719.17 713.75,721.25 C711.04,723.33 708.54,725.21 706.25,727.5 C703.96,729.79 702.29,732.71 700,735 C697.71,737.29 695.42,739.17 692.5,741.25 C689.58,743.33 686.04,745.42 682.5,747.5 C678.96,749.58 674.79,751.67 671.25,753.75 C667.71,755.83 664.38,757.71 661.25,760 C658.12,762.29 654.9,764.79 652.5,767.5 C650.1,770.21 648.44,773.33 646.88,776.25 C645.31,779.17 644.17,781.67 643.12,785 C642.08,788.33 641.35,792.5 640.62,796.25 C639.9,800 639.31,803.96 638.75,807.5 C638.19,811.04 637.67,814.58 637.25,817.5 C636.83,820.42 636.46,820.42 636.25,825 C636.04,829.58 636.04,819.92 636,845 C635.96,870.08 636,953.75 636,975.5 L636,572.2 Z" fill="#fdb515" fill-opacity="0.2" stroke="none"/>
<path d="M636,572.2 C636,574.33 635.96,579.12 636,585 C636.04,590.88 636,602.5 636.25,607.5 C636.5,612.5 636.77,612.5 637.5,615 C638.23,617.5 638.96,619.79 640.62,622.5 C642.29,625.21 644.9,628.33 647.5,631.25 C650.1,634.17 653.54,637.29 656.25,640 C658.96,642.71 661.46,645.31 663.75,647.5 C666.04,649.69 667.5,651.25 670,653.12 C672.5,655 675.83,656.98 678.75,658.75 C681.67,660.52 684.38,661.88 687.5,663.75 C690.62,665.62 694.58,667.92 697.5,670 C700.42,672.08 702.92,674.17 705,676.25 C707.08,678.33 708.12,680.42 710,682.5 C711.88,684.58 713.75,686.67 716.25,688.75 C718.75,690.83 722.71,693.02 725,695 C727.29,696.98 729,698.96 730,700.62 C731,702.29 731.21,703.44 731,705 C730.79,706.56 730.17,708.33 728.75,710 C727.33,711.67 725,713.12 722.5,715 C720,716.88 716.46,719.17 713.75,721.25 C711.04,723.33 708.54,725.21 706.25,727.5 C703.96,729.79 702.29,732.71 700,735 C697.71,737.29 695.42,739.17 692.5,741.25 C689.58,743.33 686.04,745.42 682.5,747.5 C678.96,749.58 674.79,751.67 671.25,753.75 C667.71,755.83 664.38,757.71 661.25,760 C658.12,762.29 654.9,764.79 652.5,767.5 C650.1,770.21 648.44,773.33 646.88,776.25 C645.31,779.17 644.17,781.67 643.12,785 C642.08,788.33 641.35,792.5 640.62,796.25 C639.9,800 639.31,803.96 638.75,807.5 C638.19,811.04 637.67,814.58 637.25,817.5 C636.83,820.42 636.46,820.42 636.25,825 C636.04,829.58 636.04,819.92 636,845 C635.96,870.08 636,953.75 636,975.5" fill="none" stroke="#fdb515" stroke-width="2.7" stroke-linejoin="round" stroke-linecap="round"/>
<path d="M874.9,550.6 V997 H1414.9" fill="none" stroke="#0a0a0a" stroke-width="1.45"/>
<line x1="874.9" y1="601.25" x2="887.4" y2="601.25" stroke="#0a0a0a" stroke-width="1.4"/>
<line x1="874.9" y1="702.5" x2="887.4" y2="702.5" stroke="#0a0a0a" stroke-width="1.4"/>
<line x1="874.9" y1="803.75" x2="887.4" y2="803.75" stroke="#0a0a0a" stroke-width="1.4"/>
<line x1="874.9" y1="905" x2="887.4" y2="905" stroke="#0a0a0a" stroke-width="1.4"/>
<line x1="960.9" y1="997" x2="960.9" y2="984.2" stroke="#0a0a0a" stroke-width="1.4"/>
<line x1="1083.4" y1="997" x2="1083.4" y2="984.2" stroke="#0a0a0a" stroke-width="1.4"/>
<line x1="1205.9" y1="997" x2="1205.9" y2="984.2" stroke="#0a0a0a" stroke-width="1.4"/>
<line x1="1328.4" y1="997" x2="1328.4" y2="984.2" stroke="#0a0a0a" stroke-width="1.4"/>
<text transform="translate(839.68,608.95) scale(0.8772,1)" font-size="23.9">12</text>
<text transform="translate(843.11,710.2) scale(0.7179,1)" font-size="23.9">11</text>
<text transform="translate(836.3,811.45) scale(0.9480,1)" font-size="23.9">10</text>
<text transform="translate(847.54,912.7) scale(1.1127,1)" font-size="23.9">9</text>
<text transform="translate(947.37,1026.9) scale(1.0425,1)" font-size="23.9">39</text>
<text transform="translate(1069.11,1026.9) scale(1.0958,1)" font-size="23.9">40</text>
<text transform="translate(1194.66,1026.9) scale(0.8207,1)" font-size="23.9">41</text>
<text transform="translate(1315.66,1026.9) scale(1.0002,1)" font-size="23.9">42</text>
<g fill="#fdb515" fill-opacity="0.2" stroke="#fdb515" stroke-width="2.1">
<circle cx="1340.65" cy="712.62" r="8"/><circle cx="1242.65" cy="712.62" r="8"/><circle cx="1316.15" cy="743" r="8" stroke-width="3" shape-rendering="crispEdges"/><circle cx="1340.65" cy="753.12" r="8" stroke-width="3" shape-rendering="crispEdges"/><circle cx="1316.15" cy="753.12" r="8" stroke-width="3" shape-rendering="crispEdges"/><circle cx="1303.9" cy="763.25" r="8" stroke-width="3" shape-rendering="crispEdges"/><circle cx="1340.65" cy="773.37" r="8" stroke-width="3" shape-rendering="crispEdges"/><circle cx="1328.4" cy="773.37" r="8" stroke-width="3" shape-rendering="crispEdges"/><circle cx="1340.65" cy="783.5" r="8" stroke-width="3" shape-rendering="crispEdges"/><circle cx="1328.4" cy="783.5" r="8" stroke-width="3" shape-rendering="crispEdges"/><circle cx="1340.65" cy="793.62" r="8" stroke-width="3" shape-rendering="crispEdges"/><circle cx="1328.4" cy="793.62" r="8" stroke-width="3" shape-rendering="crispEdges"/><circle cx="1352.9" cy="803.75" r="8" stroke-width="3" shape-rendering="crispEdges"/><circle cx="1340.65" cy="803.75" r="8" stroke-width="3" shape-rendering="crispEdges"/><circle cx="1316.15" cy="773.37" r="8" stroke-width="3" shape-rendering="crispEdges"/><circle cx="1303.9" cy="793.62" r="8" stroke-width="3" shape-rendering="crispEdges"/><circle cx="1279.4" cy="773.37" r="8" stroke-width="3" shape-rendering="crispEdges"/><circle cx="1267.15" cy="803.75" r="8"/><circle cx="1254.9" cy="793.62" r="8"/><circle cx="1291.65" cy="763.25" r="8" stroke-width="3" shape-rendering="crispEdges"/><circle cx="1316.15" cy="813.88" r="8"/><circle cx="1340.65" cy="813.88" r="8"/><circle cx="1316.15" cy="824" r="8"/><circle cx="1279.4" cy="813.88" r="8"/><circle cx="1303.9" cy="813.88" r="8"/><circle cx="1254.9" cy="824" r="8"/><circle cx="1205.9" cy="834.13" r="8"/><circle cx="1267.15" cy="834.13" r="8"/><circle cx="1328.4" cy="834.13" r="8"/><circle cx="1303.9" cy="854.38" r="8"/><circle cx="1316.15" cy="854.38" r="8"/><circle cx="1303.9" cy="864.5" r="8"/><circle cx="1291.65" cy="874.62" r="8"/><circle cx="1303.9" cy="874.62" r="8"/><circle cx="1303.9" cy="884.75" r="8"/><circle cx="1316.15" cy="884.75" r="8"/><circle cx="1316.15" cy="894.88" r="8"/><circle cx="1328.4" cy="894.88" r="8"/><circle cx="1267.15" cy="894.88" r="8"/><circle cx="1267.15" cy="894.88" r="8"/><circle cx="1242.65" cy="894.88" r="8"/><circle cx="1291.65" cy="803.75" r="8" stroke-width="3" shape-rendering="crispEdges"/><circle cx="1279.4" cy="783.5" r="8" stroke-width="3" shape-rendering="crispEdges"/><circle cx="1328.4" cy="803.75" r="8" stroke-width="3" shape-rendering="crispEdges"/>
</g>
<g fill="#66b3ff" fill-opacity="0.2" stroke="#66b3ff" stroke-width="1.9">
<circle cx="1107.9" cy="601.25" r="8"/><circle cx="1181.4" cy="651.88" r="8"/><circle cx="1193.65" cy="692.38" r="8"/><circle cx="1205.9" cy="692.38" r="8"/><circle cx="1230.4" cy="692.38" r="8"/><circle cx="1132.4" cy="702.5" r="8"/><circle cx="1169.15" cy="702.5" r="8"/><circle cx="1205.9" cy="702.5" r="8"/><circle cx="1230.4" cy="702.5" r="8"/><circle cx="1303.9" cy="702.5" r="8"/><circle cx="1083.4" cy="712.62" r="8"/><circle cx="1218.15" cy="712.62" r="8"/><circle cx="1254.9" cy="712.62" r="8"/><circle cx="1291.65" cy="712.62" r="8"/><circle cx="1181.4" cy="722.75" r="7.7" stroke-width="2.45" shape-rendering="crispEdges"/><circle cx="1218.15" cy="722.75" r="7.7" stroke-width="2.45" shape-rendering="crispEdges"/><circle cx="1254.9" cy="722.75" r="7.7" stroke-width="2.45" shape-rendering="crispEdges"/><circle cx="1267.15" cy="722.75" r="7.7" stroke-width="2.45" shape-rendering="crispEdges"/><circle cx="1181.4" cy="732.88" r="7.7" stroke-width="2.45" shape-rendering="crispEdges"/><circle cx="1267.15" cy="732.88" r="7.7" stroke-width="2.45" shape-rendering="crispEdges"/><circle cx="1120.15" cy="743" r="7.7" stroke-width="2.45" shape-rendering="crispEdges"/><circle cx="1193.65" cy="743" r="7.7" stroke-width="2.45" shape-rendering="crispEdges"/><circle cx="1303.9" cy="743" r="7.7" stroke-width="2.45" shape-rendering="crispEdges"/><circle cx="1083.4" cy="753.12" r="8"/><circle cx="1181.4" cy="753.12" r="7.7" stroke-width="2.45" shape-rendering="crispEdges"/><circle cx="1230.4" cy="753.12" r="7.7" stroke-width="2.45" shape-rendering="crispEdges"/><circle cx="1120.15" cy="763.25" r="7.7" stroke-width="2.45" shape-rendering="crispEdges"/><circle cx="1144.65" cy="763.25" r="7.7" stroke-width="2.45" shape-rendering="crispEdges"/><circle cx="1279.4" cy="763.25" r="7.7" stroke-width="2.45" shape-rendering="crispEdges"/><circle cx="985.4" cy="773.37" r="8"/><circle cx="1193.65" cy="773.37" r="7.7" stroke-width="2.45" shape-rendering="crispEdges"/><circle cx="1156.9" cy="783.5" r="7.7" stroke-width="2.45" shape-rendering="crispEdges"/><circle cx="1193.65" cy="783.5" r="7.7" stroke-width="2.45" shape-rendering="crispEdges"/><circle cx="1267.15" cy="783.5" r="7.7" stroke-width="2.45" shape-rendering="crispEdges"/><circle cx="1046.65" cy="793.62" r="8"/><circle cx="1046.65" cy="793.62" r="8"/><circle cx="1144.65" cy="793.62" r="7.7" stroke-width="2.45" shape-rendering="crispEdges"/><circle cx="1279.4" cy="793.62" r="7.7" stroke-width="2.45" shape-rendering="crispEdges"/><circle cx="1169.15" cy="803.75" r="7.7" stroke-width="2.45" shape-rendering="crispEdges"/><circle cx="1218.15" cy="803.75" r="7.7" stroke-width="2.45" shape-rendering="crispEdges"/><circle cx="1267.15" cy="803.75" r="7.7" stroke-width="2.45" shape-rendering="crispEdges"/><circle cx="1303.9" cy="803.75" r="7.7" stroke-width="2.45" shape-rendering="crispEdges"/><circle cx="1144.65" cy="824" r="8"/><circle cx="1267.15" cy="824" r="8"/><circle cx="1242.65" cy="834.13" r="8"/><circle cx="1279.4" cy="834.13" r="8"/><circle cx="1193.65" cy="844.25" r="8"/><circle cx="1254.9" cy="864.5" r="8"/><circle cx="1267.15" cy="864.5" r="8"/><circle cx="1279.4" cy="864.5" r="8"/><circle cx="1242.65" cy="743" r="7.7" stroke-width="2.45" shape-rendering="crispEdges"/><circle cx="1254.9" cy="763.25" r="7.7" stroke-width="2.45" shape-rendering="crispEdges"/><circle cx="1291.65" cy="773.37" r="7.7" stroke-width="2.45" shape-rendering="crispEdges"/><circle cx="1316.15" cy="783.5" r="7.7" stroke-width="2.45" shape-rendering="crispEdges"/><circle cx="1205.9" cy="773.37" r="7.7" stroke-width="2.45" shape-rendering="crispEdges"/>
</g>
<g fill="#006400" fill-opacity="0.2" stroke="#006400" stroke-width="2.1">
<circle cx="1267.15" cy="641.75" r="8"/><circle cx="1328.4" cy="682.25" r="8"/><circle cx="1242.65" cy="692.38" r="8"/><circle cx="1291.65" cy="692.38" r="8"/><circle cx="1279.4" cy="722.75" r="8" stroke-width="2.8" shape-rendering="crispEdges"/><circle cx="1303.9" cy="722.75" r="8" stroke-width="2.8" shape-rendering="crispEdges"/><circle cx="1291.65" cy="732.88" r="8" stroke-width="2.8" shape-rendering="crispEdges"/><circle cx="1303.9" cy="732.88" r="8" stroke-width="2.8" shape-rendering="crispEdges"/><circle cx="1328.4" cy="732.88" r="8" stroke-width="2.8" shape-rendering="crispEdges"/><circle cx="1169.15" cy="743" r="8"/><circle cx="1254.9" cy="743" r="8" stroke-width="2.8" shape-rendering="crispEdges"/><circle cx="1279.4" cy="743" r="8" stroke-width="2.8" shape-rendering="crispEdges"/><circle cx="1291.65" cy="743" r="8" stroke-width="2.8" shape-rendering="crispEdges"/><circle cx="1328.4" cy="743" r="8" stroke-width="2.8" shape-rendering="crispEdges"/><circle cx="1169.15" cy="753.12" r="8"/><circle cx="1242.65" cy="753.12" r="8" stroke-width="2.8" shape-rendering="crispEdges"/><circle cx="1254.9" cy="753.12" r="8" stroke-width="2.8" shape-rendering="crispEdges"/><circle cx="1267.15" cy="753.12" r="8" stroke-width="2.8" shape-rendering="crispEdges"/><circle cx="1291.65" cy="753.12" r="8" stroke-width="2.8" shape-rendering="crispEdges"/><circle cx="1316.15" cy="753.12" r="8" stroke-width="2.8" shape-rendering="crispEdges"/><circle cx="1193.65" cy="763.25" r="8"/><circle cx="1230.4" cy="763.25" r="8" stroke-width="2.8" shape-rendering="crispEdges"/><circle cx="1242.65" cy="763.25" r="8" stroke-width="2.8" shape-rendering="crispEdges"/><circle cx="1267.15" cy="763.25" r="8" stroke-width="2.8" shape-rendering="crispEdges"/><circle cx="1328.4" cy="763.25" r="8" stroke-width="2.8" shape-rendering="crispEdges"/><circle cx="1193.65" cy="773.37" r="8"/><circle cx="1218.15" cy="773.37" r="8"/><circle cx="1230.4" cy="773.37" r="8" stroke-width="2.8" shape-rendering="crispEdges"/><circle cx="1242.65" cy="773.37" r="8" stroke-width="2.8" shape-rendering="crispEdges"/><circle cx="1303.9" cy="773.37" r="8" stroke-width="2.8" shape-rendering="crispEdges"/><circle cx="1218.15" cy="783.5" r="8"/><circle cx="1230.4" cy="783.5" r="8" stroke-width="2.8" shape-rendering="crispEdges"/><circle cx="1242.65" cy="783.5" r="8" stroke-width="2.8" shape-rendering="crispEdges"/><circle cx="1254.9" cy="783.5" r="8" stroke-width="2.8" shape-rendering="crispEdges"/><circle cx="1267.15" cy="783.5" r="8" stroke-width="2.8" shape-rendering="crispEdges"/><circle cx="1279.4" cy="783.5" r="8" stroke-width="2.8" shape-rendering="crispEdges"/><circle cx="1291.65" cy="783.5" r="8" stroke-width="2.8" shape-rendering="crispEdges"/><circle cx="1303.9" cy="783.5" r="8" stroke-width="2.8" shape-rendering="crispEdges"/><circle cx="1316.15" cy="783.5" r="8" stroke-width="2.8" shape-rendering="crispEdges"/><circle cx="1230.4" cy="793.62" r="8" stroke-width="2.8" shape-rendering="crispEdges"/><circle cx="1267.15" cy="793.62" r="8" stroke-width="2.8" shape-rendering="crispEdges"/><circle cx="1291.65" cy="793.62" r="8" stroke-width="2.8" shape-rendering="crispEdges"/><circle cx="1316.15" cy="793.62" r="8" stroke-width="2.8" shape-rendering="crispEdges"/><circle cx="1242.65" cy="803.75" r="8" stroke-width="2.8" shape-rendering="crispEdges"/><circle cx="1279.4" cy="803.75" r="8" stroke-width="2.8" shape-rendering="crispEdges"/><circle cx="1291.65" cy="803.75" r="8" stroke-width="2.8" shape-rendering="crispEdges"/><circle cx="1303.9" cy="803.75" r="8" stroke-width="2.8" shape-rendering="crispEdges"/><circle cx="1316.15" cy="803.75" r="8" stroke-width="2.8" shape-rendering="crispEdges"/><circle cx="1328.4" cy="803.75" r="8" stroke-width="2.8" shape-rendering="crispEdges"/><circle cx="1230.4" cy="813.88" r="8" stroke-width="2.8" shape-rendering="crispEdges"/><circle cx="1254.9" cy="813.88" r="8" stroke-width="2.8" shape-rendering="crispEdges"/><circle cx="1279.4" cy="813.88" r="8" stroke-width="2.8" shape-rendering="crispEdges"/><circle cx="1291.65" cy="813.88" r="8" stroke-width="2.8" shape-rendering="crispEdges"/><circle cx="1242.65" cy="824" r="8"/><circle cx="1279.4" cy="824" r="8"/><circle cx="1291.65" cy="834.13" r="8" stroke-width="2.8" shape-rendering="crispEdges"/><circle cx="1303.9" cy="834.13" r="8" stroke-width="2.8" shape-rendering="crispEdges"/><circle cx="1303.9" cy="844.25" r="8"/><circle cx="1230.4" cy="844.25" r="8"/><circle cx="1242.65" cy="894.88" r="8"/>
</g>
<path d="M985.1,698.12 L993.38,700.29 L1001.66,702.46 L1009.94,704.63 L1018.22,706.79 L1026.5,708.95 L1034.78,711.1 L1043.06,713.24 L1051.34,715.38 L1059.62,717.51 L1067.9,719.63 L1076.18,721.73 L1084.46,723.83 L1092.74,725.91 L1101.02,727.98 L1109.3,730.02 L1117.58,732.05 L1125.86,734.04 L1134.14,736.01 L1142.42,737.94 L1150.7,739.83 L1158.98,741.66 L1167.26,743.43 L1175.54,745.13 L1183.82,746.75 L1192.1,748.26 L1200.38,749.66 L1208.66,750.94 L1216.94,752.07 L1225.22,753.06 L1233.5,753.91 L1241.78,754.62 L1250.06,755.19 L1258.34,755.65 L1266.62,756.01 L1274.9,756.28 L1283.18,756.47 L1291.46,756.6 L1299.74,756.67 L1308.02,756.7 L1316.3,756.69 L1316.3,792.51 L1308.02,790.55 L1299.74,788.63 L1291.46,786.75 L1283.18,784.93 L1274.9,783.17 L1266.62,781.49 L1258.34,779.9 L1250.06,778.41 L1241.78,777.03 L1233.5,775.79 L1225.22,774.69 L1216.94,773.73 L1208.66,772.91 L1200.38,772.24 L1192.1,771.69 L1183.82,771.25 L1175.54,770.92 L1167.26,770.67 L1158.98,770.49 L1150.7,770.37 L1142.42,770.31 L1134.14,770.29 L1125.86,770.31 L1117.58,770.35 L1109.3,770.43 L1101.02,770.52 L1092.74,770.64 L1084.46,770.77 L1076.18,770.92 L1067.9,771.07 L1059.62,771.24 L1051.34,771.42 L1043.06,771.61 L1034.78,771.8 L1026.5,772 L1018.22,772.21 L1009.94,772.42 L1001.66,772.64 L993.38,772.86 L985.1,773.08 Z" fill="#66b3ff" fill-opacity="0.4" stroke="none"/>
<line x1="985.1" y1="735.6" x2="1316.3" y2="774.6" stroke="#66b3ff" stroke-width="5.5"/>
<path d="M1168.8,752.99 L1172.8,753.71 L1176.81,754.42 L1180.81,755.12 L1184.81,755.81 L1188.81,756.5 L1192.82,757.17 L1196.82,757.83 L1200.82,758.47 L1204.82,759.1 L1208.83,759.72 L1212.83,760.32 L1216.83,760.89 L1220.83,761.44 L1224.84,761.97 L1228.84,762.47 L1232.84,762.94 L1236.84,763.37 L1240.85,763.77 L1244.85,764.11 L1248.85,764.42 L1252.85,764.67 L1256.86,764.86 L1260.86,764.99 L1264.86,765.06 L1268.86,765.05 L1272.87,764.98 L1276.87,764.84 L1280.87,764.63 L1284.87,764.35 L1288.88,764 L1292.88,763.59 L1296.88,763.11 L1300.88,762.58 L1304.88,762 L1308.89,761.38 L1312.89,760.71 L1316.89,760 L1320.89,759.25 L1324.9,758.48 L1328.9,757.68 L1328.9,794.52 L1324.9,793.99 L1320.89,793.49 L1316.89,793.01 L1312.89,792.57 L1308.89,792.17 L1304.88,791.82 L1300.88,791.51 L1296.88,791.25 L1292.88,791.04 L1288.88,790.9 L1284.87,790.82 L1280.87,790.81 L1276.87,790.87 L1272.87,791 L1268.86,791.2 L1264.86,791.46 L1260.86,791.8 L1256.86,792.2 L1252.85,792.66 L1248.85,793.18 L1244.85,793.76 L1240.85,794.37 L1236.84,795.04 L1232.84,795.74 L1228.84,796.48 L1224.84,797.25 L1220.83,798.05 L1216.83,798.87 L1212.83,799.71 L1208.83,800.58 L1204.82,801.47 L1200.82,802.37 L1196.82,803.28 L1192.82,804.21 L1188.81,805.15 L1184.81,806.11 L1180.81,807.07 L1176.81,808.04 L1172.8,809.02 L1168.8,810.01 Z" fill="#006400" fill-opacity="0.4" stroke="none" shape-rendering="crispEdges"/>
<line x1="1168.8" y1="781.5" x2="1328.9" y2="776.1" stroke="#006400" stroke-width="6.6" shape-rendering="crispEdges"/>
<path d="M1205.6,781.63 L1209.28,782.69 L1212.97,783.75 L1216.65,784.81 L1220.34,785.85 L1224.02,786.89 L1227.71,787.92 L1231.39,788.94 L1235.08,789.95 L1238.76,790.95 L1242.45,791.93 L1246.13,792.9 L1249.82,793.85 L1253.5,794.77 L1257.19,795.67 L1260.88,796.53 L1264.56,797.36 L1268.24,798.15 L1271.93,798.87 L1275.62,799.54 L1279.3,800.13 L1282.98,800.63 L1286.67,801.02 L1290.36,801.29 L1294.04,801.43 L1297.72,801.41 L1301.41,801.25 L1305.1,800.92 L1308.78,800.45 L1312.46,799.84 L1316.15,799.1 L1319.84,798.25 L1323.52,797.31 L1327.2,796.29 L1330.89,795.2 L1334.58,794.06 L1338.26,792.86 L1341.94,791.64 L1345.63,790.37 L1349.32,789.08 L1353,787.77 L1353,831.73 L1349.32,830.79 L1345.63,829.87 L1341.94,828.98 L1338.26,828.13 L1334.58,827.31 L1330.89,826.54 L1327.2,825.82 L1323.52,825.17 L1319.84,824.6 L1316.15,824.13 L1312.46,823.76 L1308.78,823.52 L1305.1,823.42 L1301.41,823.47 L1297.72,823.67 L1294.04,824.03 L1290.36,824.54 L1286.67,825.18 L1282.98,825.95 L1279.3,826.82 L1275.62,827.78 L1271.93,828.82 L1268.24,829.92 L1264.56,831.08 L1260.88,832.28 L1257.19,833.52 L1253.5,834.79 L1249.82,836.08 L1246.13,837.4 L1242.45,838.74 L1238.76,840.1 L1235.08,841.47 L1231.39,842.85 L1227.71,844.24 L1224.02,845.65 L1220.34,847.06 L1216.65,848.48 L1212.97,849.9 L1209.28,851.33 L1205.6,852.77 Z" fill="#fdb515" fill-opacity="0.4" stroke="none" shape-rendering="crispEdges"/>
<line x1="1205.6" y1="817.2" x2="1353" y2="809.75" stroke="#fdb515" stroke-width="6.0" shape-rendering="crispEdges"/>
<text transform="translate(0,895.8)" fill="#66b3ff"><tspan x="961.42" y="0" font-size="28" font-style="italic" textLength="16.46" lengthAdjust="spacingAndGlyphs">R</tspan> <tspan x="984.7" y="0" font-size="28" textLength="13.54" lengthAdjust="spacingAndGlyphs">=</tspan> <tspan x="1004.46" y="0" font-size="28" textLength="67.79" lengthAdjust="spacingAndGlyphs">−0.18</tspan></text>
<text transform="translate(0,926.8)" fill="#006400"><tspan x="961.42" y="0" font-size="28" font-style="italic" textLength="16.46" lengthAdjust="spacingAndGlyphs">R</tspan> <tspan x="984.7" y="0" font-size="28" textLength="13.54" lengthAdjust="spacingAndGlyphs">=</tspan> <tspan x="1005.16" y="0" font-size="28" textLength="77.45" lengthAdjust="spacingAndGlyphs">0.036</tspan></text>
<text transform="translate(0,957)" fill="#fdb515"><tspan x="961.42" y="0" font-size="28" font-style="italic" textLength="16.46" lengthAdjust="spacingAndGlyphs">R</tspan> <tspan x="984.7" y="0" font-size="28" textLength="13.54" lengthAdjust="spacingAndGlyphs">=</tspan> <tspan x="1005.13" y="0" font-size="28" textLength="61.68" lengthAdjust="spacingAndGlyphs">0.04</tspan></text>
<text transform="translate(1.06,29) scale(0.9767,1)" font-size="37.3" font-weight="bold" stroke="#000" stroke-width="1.3" stroke-linejoin="round">a</text>
<text transform="translate(780.41,29) scale(1.1308,1)" font-size="37.3" font-weight="bold" stroke="#000" stroke-width="1.3" stroke-linejoin="round">b</text>
<text transform="translate(0.57,559.2) scale(1.0559,1)" font-size="37.3" font-weight="bold" stroke="#000" stroke-width="1.3" stroke-linejoin="round">c</text>
<text transform="translate(781.42,559.2) scale(1.1573,1)" font-size="37.3" font-weight="bold" stroke="#000" stroke-width="1.3" stroke-linejoin="round">d</text>
<text transform="translate(23.2,0) rotate(-90)"><tspan x="-306.19" y="0" font-size="28.3" textLength="35.81" lengthAdjust="spacingAndGlyphs">CT</tspan><tspan x="-271.46" y="9" font-size="19.6" textLength="36.79" lengthAdjust="spacingAndGlyphs">max</tspan> <tspan x="-227.33" y="0" font-size="28.3" textLength="49.62" lengthAdjust="spacingAndGlyphs">(°C)</tspan></text>
<text transform="translate(806.9,0) rotate(-90)"><tspan x="-305.35" y="0" font-size="28.3" textLength="35.97" lengthAdjust="spacingAndGlyphs">CT</tspan><tspan x="-269" y="8.2" font-size="19.6" textLength="33.42" lengthAdjust="spacingAndGlyphs">min</tspan> <tspan x="-229.44" y="0" font-size="28.3" textLength="49.83" lengthAdjust="spacingAndGlyphs">(°C)</tspan></text>
<text transform="translate(806.9,0) rotate(-90)"><tspan x="-837.55" y="0" font-size="28.3" textLength="35.97" lengthAdjust="spacingAndGlyphs">CT</tspan><tspan x="-801.2" y="8.2" font-size="19.6" textLength="33.42" lengthAdjust="spacingAndGlyphs">min</tspan> <tspan x="-761.64" y="0" font-size="28.3" textLength="49.83" lengthAdjust="spacingAndGlyphs">(°C)</tspan></text>
<text transform="translate(0,1071)"><tspan x="1080.76" y="0" font-size="28.3" textLength="35.65" lengthAdjust="spacingAndGlyphs">CT</tspan><tspan x="1115.89" y="7.7" font-size="19.6" textLength="36.53" lengthAdjust="spacingAndGlyphs">max</tspan> <tspan x="1159.36" y="0" font-size="28.3" textLength="49.83" lengthAdjust="spacingAndGlyphs">(°C)</tspan></text>
<text transform="translate(26.1,0) rotate(-90)"><tspan x="-959.4" y="0" font-size="28.3" textLength="315.84" lengthAdjust="spacingAndGlyphs">Thermal tolerance scope</tspan> <tspan x="-636.13" y="0" font-size="28.3" textLength="49.4" lengthAdjust="spacingAndGlyphs">(°C)</tspan></text>
</svg>
</body></html>
